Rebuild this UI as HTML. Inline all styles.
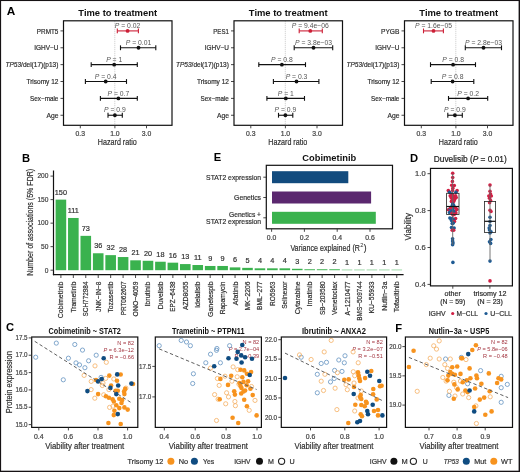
<!DOCTYPE html>
<html><head><meta charset="utf-8"><style>
html,body{margin:0;padding:0;background:#fff;width:520px;height:472px;overflow:hidden}
svg{display:block;will-change:transform}
text{font-family:"Liberation Sans", sans-serif}
</style></head><body>
<svg width="520" height="472" viewBox="0 0 520 472">
<rect width="520" height="472" fill="#fff"/>
<text x="6.80" y="14.80" font-size="11.8" text-anchor="start" fill="#000" font-weight="bold" >A</text>
<text x="117.70" y="16.30" font-size="9.6" text-anchor="middle" fill="#111" font-weight="bold" textLength="78.8" lengthAdjust="spacingAndGlyphs" >Time to treatment</text>
<line x1="114.80" y1="20.80" x2="114.80" y2="125.30" stroke="#bbb" stroke-width="0.8" stroke-dasharray="1 1"/>
<line x1="60.50" y1="30.90" x2="63.50" y2="30.90" stroke="#333" stroke-width="0.9" />
<text x="58.40" y="33.50" font-size="7.5" text-anchor="end" fill="#2e2e2e" stroke="#2e2e2e" stroke-width="0.2" textLength="21.6" lengthAdjust="spacingAndGlyphs" >PRMT5</text>
<line x1="117.30" y1="30.90" x2="138.40" y2="30.90" stroke="#cc1f36" stroke-width="1.1" />
<line x1="117.30" y1="28.50" x2="117.30" y2="33.30" stroke="#cc1f36" stroke-width="1.1" />
<line x1="138.40" y1="28.50" x2="138.40" y2="33.30" stroke="#cc1f36" stroke-width="1.1" />
<circle cx="127.60" cy="30.90" r="1.9" fill="#cc1f36" stroke="none" stroke-width="1" />
<text x="127.60" y="28.10" font-size="6.8" text-anchor="middle" fill="#555" ><tspan font-style="italic">P</tspan> = 0.02</text>
<line x1="60.50" y1="47.77" x2="63.50" y2="47.77" stroke="#333" stroke-width="0.9" />
<text x="58.40" y="50.37" font-size="7.5" text-anchor="end" fill="#2e2e2e" stroke="#2e2e2e" stroke-width="0.2" textLength="24.2" lengthAdjust="spacingAndGlyphs" >IGHV−U</text>
<line x1="120.50" y1="47.77" x2="155.80" y2="47.77" stroke="#111" stroke-width="1.1" />
<line x1="120.50" y1="45.37" x2="120.50" y2="50.17" stroke="#111" stroke-width="1.1" />
<line x1="155.80" y1="45.37" x2="155.80" y2="50.17" stroke="#111" stroke-width="1.1" />
<circle cx="138.50" cy="47.77" r="1.9" fill="#111" stroke="none" stroke-width="1" />
<text x="138.50" y="44.97" font-size="6.8" text-anchor="middle" fill="#555" ><tspan font-style="italic">P</tspan> = 0.01</text>
<line x1="60.50" y1="64.64" x2="63.50" y2="64.64" stroke="#333" stroke-width="0.9" />
<text x="58.40" y="67.24" font-size="7.5" text-anchor="end" fill="#2e2e2e" stroke="#2e2e2e" stroke-width="0.2" textLength="52.9" lengthAdjust="spacingAndGlyphs" ><tspan font-style="italic">TP53</tspan>/del(17)(p13)</text>
<line x1="91.20" y1="64.64" x2="137.30" y2="64.64" stroke="#111" stroke-width="1.1" />
<line x1="91.20" y1="62.24" x2="91.20" y2="67.04" stroke="#111" stroke-width="1.1" />
<line x1="137.30" y1="62.24" x2="137.30" y2="67.04" stroke="#111" stroke-width="1.1" />
<circle cx="114.20" cy="64.64" r="1.9" fill="#111" stroke="none" stroke-width="1" />
<text x="114.20" y="61.84" font-size="6.8" text-anchor="middle" fill="#555" ><tspan font-style="italic">P</tspan> = 1</text>
<line x1="60.50" y1="81.51" x2="63.50" y2="81.51" stroke="#333" stroke-width="0.9" />
<text x="58.40" y="84.11" font-size="7.5" text-anchor="end" fill="#2e2e2e" stroke="#2e2e2e" stroke-width="0.2" textLength="32.0" lengthAdjust="spacingAndGlyphs" >Trisomy 12</text>
<line x1="85.40" y1="81.51" x2="126.50" y2="81.51" stroke="#111" stroke-width="1.1" />
<line x1="85.40" y1="79.11" x2="85.40" y2="83.91" stroke="#111" stroke-width="1.1" />
<line x1="126.50" y1="79.11" x2="126.50" y2="83.91" stroke="#111" stroke-width="1.1" />
<circle cx="105.70" cy="81.51" r="1.9" fill="#111" stroke="none" stroke-width="1" />
<text x="105.70" y="78.71" font-size="6.8" text-anchor="middle" fill="#555" ><tspan font-style="italic">P</tspan> = 0.4</text>
<line x1="60.50" y1="98.38" x2="63.50" y2="98.38" stroke="#333" stroke-width="0.9" />
<text x="58.40" y="100.98" font-size="7.5" text-anchor="end" fill="#2e2e2e" stroke="#2e2e2e" stroke-width="0.2" textLength="28.4" lengthAdjust="spacingAndGlyphs" >Sex−male</text>
<line x1="100.40" y1="98.38" x2="137.30" y2="98.38" stroke="#111" stroke-width="1.1" />
<line x1="100.40" y1="95.98" x2="100.40" y2="100.78" stroke="#111" stroke-width="1.1" />
<line x1="137.30" y1="95.98" x2="137.30" y2="100.78" stroke="#111" stroke-width="1.1" />
<circle cx="118.40" cy="98.38" r="1.9" fill="#111" stroke="none" stroke-width="1" />
<text x="118.40" y="95.58" font-size="6.8" text-anchor="middle" fill="#555" ><tspan font-style="italic">P</tspan> = 0.7</text>
<line x1="60.50" y1="115.25" x2="63.50" y2="115.25" stroke="#333" stroke-width="0.9" />
<text x="58.40" y="117.85" font-size="7.5" text-anchor="end" fill="#2e2e2e" stroke="#2e2e2e" stroke-width="0.2" textLength="12.0" lengthAdjust="spacingAndGlyphs" >Age</text>
<line x1="108.00" y1="115.25" x2="122.30" y2="115.25" stroke="#111" stroke-width="1.1" />
<line x1="108.00" y1="112.85" x2="108.00" y2="117.65" stroke="#111" stroke-width="1.1" />
<line x1="122.30" y1="112.85" x2="122.30" y2="117.65" stroke="#111" stroke-width="1.1" />
<circle cx="114.90" cy="115.25" r="1.9" fill="#111" stroke="none" stroke-width="1" />
<text x="114.90" y="112.45" font-size="6.8" text-anchor="middle" fill="#555" ><tspan font-style="italic">P</tspan> = 0.9</text>
<rect x="63.50" y="20.80" width="108.50" height="104.50" fill="none" stroke="#111" stroke-width="1.2" />
<line x1="80.30" y1="125.30" x2="80.30" y2="128.30" stroke="#333" stroke-width="0.9" />
<text x="80.30" y="135.60" font-size="6.4" text-anchor="middle" fill="#444" stroke="#444" stroke-width="0.2" textLength="9.5" lengthAdjust="spacingAndGlyphs" >0.3</text>
<line x1="114.90" y1="125.30" x2="114.90" y2="128.30" stroke="#333" stroke-width="0.9" />
<text x="114.90" y="135.60" font-size="6.4" text-anchor="middle" fill="#444" stroke="#444" stroke-width="0.2" textLength="9.5" lengthAdjust="spacingAndGlyphs" >1.0</text>
<line x1="146.50" y1="125.30" x2="146.50" y2="128.30" stroke="#333" stroke-width="0.9" />
<text x="146.50" y="135.60" font-size="6.4" text-anchor="middle" fill="#444" stroke="#444" stroke-width="0.2" textLength="9.5" lengthAdjust="spacingAndGlyphs" >3.0</text>
<text x="117.30" y="144.60" font-size="9.6" text-anchor="middle" fill="#2e2e2e" stroke="#2e2e2e" stroke-width="0.2" textLength="39" lengthAdjust="spacingAndGlyphs" >Hazard ratio</text>
<text x="288.20" y="16.30" font-size="9.6" text-anchor="middle" fill="#111" font-weight="bold" textLength="78.8" lengthAdjust="spacingAndGlyphs" >Time to treatment</text>
<line x1="285.30" y1="20.80" x2="285.30" y2="125.30" stroke="#bbb" stroke-width="0.8" stroke-dasharray="1 1"/>
<line x1="231.00" y1="30.90" x2="234.00" y2="30.90" stroke="#333" stroke-width="0.9" />
<text x="228.90" y="33.50" font-size="7.5" text-anchor="end" fill="#2e2e2e" stroke="#2e2e2e" stroke-width="0.2" textLength="15.6" lengthAdjust="spacingAndGlyphs" >PES1</text>
<line x1="299.20" y1="30.90" x2="322.30" y2="30.90" stroke="#cc1f36" stroke-width="1.1" />
<line x1="299.20" y1="28.50" x2="299.20" y2="33.30" stroke="#cc1f36" stroke-width="1.1" />
<line x1="322.30" y1="28.50" x2="322.30" y2="33.30" stroke="#cc1f36" stroke-width="1.1" />
<circle cx="310.30" cy="30.90" r="1.9" fill="#cc1f36" stroke="none" stroke-width="1" />
<text x="310.30" y="28.10" font-size="6.8" text-anchor="middle" fill="#555" ><tspan font-style="italic">P</tspan> = 9.4e−06</text>
<line x1="231.00" y1="47.77" x2="234.00" y2="47.77" stroke="#333" stroke-width="0.9" />
<text x="228.90" y="50.37" font-size="7.5" text-anchor="end" fill="#2e2e2e" stroke="#2e2e2e" stroke-width="0.2" textLength="24.2" lengthAdjust="spacingAndGlyphs" >IGHV−U</text>
<line x1="294.20" y1="47.77" x2="332.70" y2="47.77" stroke="#111" stroke-width="1.1" />
<line x1="294.20" y1="45.37" x2="294.20" y2="50.17" stroke="#111" stroke-width="1.1" />
<line x1="332.70" y1="45.37" x2="332.70" y2="50.17" stroke="#111" stroke-width="1.1" />
<circle cx="313.50" cy="47.77" r="1.9" fill="#111" stroke="none" stroke-width="1" />
<text x="313.50" y="44.97" font-size="6.8" text-anchor="middle" fill="#555" ><tspan font-style="italic">P</tspan> = 3.8e−03</text>
<line x1="231.00" y1="64.64" x2="234.00" y2="64.64" stroke="#333" stroke-width="0.9" />
<text x="228.90" y="67.24" font-size="7.5" text-anchor="end" fill="#2e2e2e" stroke="#2e2e2e" stroke-width="0.2" textLength="52.9" lengthAdjust="spacingAndGlyphs" ><tspan font-style="italic">TP53</tspan>/del(17)(p13)</text>
<line x1="258.80" y1="64.64" x2="305.50" y2="64.64" stroke="#111" stroke-width="1.1" />
<line x1="258.80" y1="62.24" x2="258.80" y2="67.04" stroke="#111" stroke-width="1.1" />
<line x1="305.50" y1="62.24" x2="305.50" y2="67.04" stroke="#111" stroke-width="1.1" />
<circle cx="281.90" cy="64.64" r="1.9" fill="#111" stroke="none" stroke-width="1" />
<text x="281.90" y="61.84" font-size="6.8" text-anchor="middle" fill="#555" ><tspan font-style="italic">P</tspan> = 0.8</text>
<line x1="231.00" y1="81.51" x2="234.00" y2="81.51" stroke="#333" stroke-width="0.9" />
<text x="228.90" y="84.11" font-size="7.5" text-anchor="end" fill="#2e2e2e" stroke="#2e2e2e" stroke-width="0.2" textLength="32.0" lengthAdjust="spacingAndGlyphs" >Trisomy 12</text>
<line x1="273.40" y1="81.51" x2="318.90" y2="81.51" stroke="#111" stroke-width="1.1" />
<line x1="273.40" y1="79.11" x2="273.40" y2="83.91" stroke="#111" stroke-width="1.1" />
<line x1="318.90" y1="79.11" x2="318.90" y2="83.91" stroke="#111" stroke-width="1.1" />
<circle cx="296.50" cy="81.51" r="1.9" fill="#111" stroke="none" stroke-width="1" />
<text x="296.50" y="78.71" font-size="6.8" text-anchor="middle" fill="#555" ><tspan font-style="italic">P</tspan> = 0.3</text>
<line x1="231.00" y1="98.38" x2="234.00" y2="98.38" stroke="#333" stroke-width="0.9" />
<text x="228.90" y="100.98" font-size="7.5" text-anchor="end" fill="#2e2e2e" stroke="#2e2e2e" stroke-width="0.2" textLength="28.4" lengthAdjust="spacingAndGlyphs" >Sex−male</text>
<line x1="266.90" y1="98.38" x2="304.50" y2="98.38" stroke="#111" stroke-width="1.1" />
<line x1="266.90" y1="95.98" x2="266.90" y2="100.78" stroke="#111" stroke-width="1.1" />
<line x1="304.50" y1="95.98" x2="304.50" y2="100.78" stroke="#111" stroke-width="1.1" />
<circle cx="285.80" cy="98.38" r="1.9" fill="#111" stroke="none" stroke-width="1" />
<text x="285.80" y="95.58" font-size="6.8" text-anchor="middle" fill="#555" ><tspan font-style="italic">P</tspan> = 1</text>
<line x1="231.00" y1="115.25" x2="234.00" y2="115.25" stroke="#333" stroke-width="0.9" />
<text x="228.90" y="117.85" font-size="7.5" text-anchor="end" fill="#2e2e2e" stroke="#2e2e2e" stroke-width="0.2" textLength="12.0" lengthAdjust="spacingAndGlyphs" >Age</text>
<line x1="278.50" y1="115.25" x2="292.80" y2="115.25" stroke="#111" stroke-width="1.1" />
<line x1="278.50" y1="112.85" x2="278.50" y2="117.65" stroke="#111" stroke-width="1.1" />
<line x1="292.80" y1="112.85" x2="292.80" y2="117.65" stroke="#111" stroke-width="1.1" />
<circle cx="285.40" cy="115.25" r="1.9" fill="#111" stroke="none" stroke-width="1" />
<text x="285.40" y="112.45" font-size="6.8" text-anchor="middle" fill="#555" ><tspan font-style="italic">P</tspan> = 0.9</text>
<rect x="234.00" y="20.80" width="108.50" height="104.50" fill="none" stroke="#111" stroke-width="1.2" />
<line x1="250.80" y1="125.30" x2="250.80" y2="128.30" stroke="#333" stroke-width="0.9" />
<text x="250.80" y="135.60" font-size="6.4" text-anchor="middle" fill="#444" stroke="#444" stroke-width="0.2" textLength="9.5" lengthAdjust="spacingAndGlyphs" >0.3</text>
<line x1="285.40" y1="125.30" x2="285.40" y2="128.30" stroke="#333" stroke-width="0.9" />
<text x="285.40" y="135.60" font-size="6.4" text-anchor="middle" fill="#444" stroke="#444" stroke-width="0.2" textLength="9.5" lengthAdjust="spacingAndGlyphs" >1.0</text>
<line x1="317.00" y1="125.30" x2="317.00" y2="128.30" stroke="#333" stroke-width="0.9" />
<text x="317.00" y="135.60" font-size="6.4" text-anchor="middle" fill="#444" stroke="#444" stroke-width="0.2" textLength="9.5" lengthAdjust="spacingAndGlyphs" >3.0</text>
<text x="287.80" y="144.60" font-size="9.6" text-anchor="middle" fill="#2e2e2e" stroke="#2e2e2e" stroke-width="0.2" textLength="39" lengthAdjust="spacingAndGlyphs" >Hazard ratio</text>
<text x="458.70" y="16.30" font-size="9.6" text-anchor="middle" fill="#111" font-weight="bold" textLength="78.8" lengthAdjust="spacingAndGlyphs" >Time to treatment</text>
<line x1="455.80" y1="20.80" x2="455.80" y2="125.30" stroke="#bbb" stroke-width="0.8" stroke-dasharray="1 1"/>
<line x1="401.50" y1="30.90" x2="404.50" y2="30.90" stroke="#333" stroke-width="0.9" />
<text x="399.40" y="33.50" font-size="7.5" text-anchor="end" fill="#2e2e2e" stroke="#2e2e2e" stroke-width="0.2" textLength="18.4" lengthAdjust="spacingAndGlyphs" >PYGB</text>
<line x1="423.50" y1="30.90" x2="443.40" y2="30.90" stroke="#cc1f36" stroke-width="1.1" />
<line x1="423.50" y1="28.50" x2="423.50" y2="33.30" stroke="#cc1f36" stroke-width="1.1" />
<line x1="443.40" y1="28.50" x2="443.40" y2="33.30" stroke="#cc1f36" stroke-width="1.1" />
<circle cx="433.50" cy="30.90" r="1.9" fill="#cc1f36" stroke="none" stroke-width="1" />
<text x="433.50" y="28.10" font-size="6.8" text-anchor="middle" fill="#555" ><tspan font-style="italic">P</tspan> = 1.6e−05</text>
<line x1="401.50" y1="47.77" x2="404.50" y2="47.77" stroke="#333" stroke-width="0.9" />
<text x="399.40" y="50.37" font-size="7.5" text-anchor="end" fill="#2e2e2e" stroke="#2e2e2e" stroke-width="0.2" textLength="24.2" lengthAdjust="spacingAndGlyphs" >IGHV−U</text>
<line x1="465.30" y1="47.77" x2="501.50" y2="47.77" stroke="#111" stroke-width="1.1" />
<line x1="465.30" y1="45.37" x2="465.30" y2="50.17" stroke="#111" stroke-width="1.1" />
<line x1="501.50" y1="45.37" x2="501.50" y2="50.17" stroke="#111" stroke-width="1.1" />
<circle cx="483.50" cy="47.77" r="1.9" fill="#111" stroke="none" stroke-width="1" />
<text x="483.50" y="44.97" font-size="6.8" text-anchor="middle" fill="#555" ><tspan font-style="italic">P</tspan> = 2.8e−03</text>
<line x1="401.50" y1="64.64" x2="404.50" y2="64.64" stroke="#333" stroke-width="0.9" />
<text x="399.40" y="67.24" font-size="7.5" text-anchor="end" fill="#2e2e2e" stroke="#2e2e2e" stroke-width="0.2" textLength="52.9" lengthAdjust="spacingAndGlyphs" ><tspan font-style="italic">TP53</tspan>/del(17)(p13)</text>
<line x1="430.50" y1="64.64" x2="475.50" y2="64.64" stroke="#111" stroke-width="1.1" />
<line x1="430.50" y1="62.24" x2="430.50" y2="67.04" stroke="#111" stroke-width="1.1" />
<line x1="475.50" y1="62.24" x2="475.50" y2="67.04" stroke="#111" stroke-width="1.1" />
<circle cx="453.10" cy="64.64" r="1.9" fill="#111" stroke="none" stroke-width="1" />
<text x="453.10" y="61.84" font-size="6.8" text-anchor="middle" fill="#555" ><tspan font-style="italic">P</tspan> = 0.8</text>
<line x1="401.50" y1="81.51" x2="404.50" y2="81.51" stroke="#333" stroke-width="0.9" />
<text x="399.40" y="84.11" font-size="7.5" text-anchor="end" fill="#2e2e2e" stroke="#2e2e2e" stroke-width="0.2" textLength="32.0" lengthAdjust="spacingAndGlyphs" >Trisomy 12</text>
<line x1="431.20" y1="81.51" x2="473.80" y2="81.51" stroke="#111" stroke-width="1.1" />
<line x1="431.20" y1="79.11" x2="431.20" y2="83.91" stroke="#111" stroke-width="1.1" />
<line x1="473.80" y1="79.11" x2="473.80" y2="83.91" stroke="#111" stroke-width="1.1" />
<circle cx="452.60" cy="81.51" r="1.9" fill="#111" stroke="none" stroke-width="1" />
<text x="452.60" y="78.71" font-size="6.8" text-anchor="middle" fill="#555" ><tspan font-style="italic">P</tspan> = 0.8</text>
<line x1="401.50" y1="98.38" x2="404.50" y2="98.38" stroke="#333" stroke-width="0.9" />
<text x="399.40" y="100.98" font-size="7.5" text-anchor="end" fill="#2e2e2e" stroke="#2e2e2e" stroke-width="0.2" textLength="28.4" lengthAdjust="spacingAndGlyphs" >Sex−male</text>
<line x1="448.50" y1="98.38" x2="487.70" y2="98.38" stroke="#111" stroke-width="1.1" />
<line x1="448.50" y1="95.98" x2="448.50" y2="100.78" stroke="#111" stroke-width="1.1" />
<line x1="487.70" y1="95.98" x2="487.70" y2="100.78" stroke="#111" stroke-width="1.1" />
<circle cx="468.10" cy="98.38" r="1.9" fill="#111" stroke="none" stroke-width="1" />
<text x="468.10" y="95.58" font-size="6.8" text-anchor="middle" fill="#555" ><tspan font-style="italic">P</tspan> = 0.2</text>
<line x1="401.50" y1="115.25" x2="404.50" y2="115.25" stroke="#333" stroke-width="0.9" />
<text x="399.40" y="117.85" font-size="7.5" text-anchor="end" fill="#2e2e2e" stroke="#2e2e2e" stroke-width="0.2" textLength="12.0" lengthAdjust="spacingAndGlyphs" >Age</text>
<line x1="447.80" y1="115.25" x2="462.30" y2="115.25" stroke="#111" stroke-width="1.1" />
<line x1="447.80" y1="112.85" x2="447.80" y2="117.65" stroke="#111" stroke-width="1.1" />
<line x1="462.30" y1="112.85" x2="462.30" y2="117.65" stroke="#111" stroke-width="1.1" />
<circle cx="454.90" cy="115.25" r="1.9" fill="#111" stroke="none" stroke-width="1" />
<text x="454.90" y="112.45" font-size="6.8" text-anchor="middle" fill="#555" ><tspan font-style="italic">P</tspan> = 0.9</text>
<rect x="404.50" y="20.80" width="108.50" height="104.50" fill="none" stroke="#111" stroke-width="1.2" />
<line x1="421.30" y1="125.30" x2="421.30" y2="128.30" stroke="#333" stroke-width="0.9" />
<text x="421.30" y="135.60" font-size="6.4" text-anchor="middle" fill="#444" stroke="#444" stroke-width="0.2" textLength="9.5" lengthAdjust="spacingAndGlyphs" >0.3</text>
<line x1="455.90" y1="125.30" x2="455.90" y2="128.30" stroke="#333" stroke-width="0.9" />
<text x="455.90" y="135.60" font-size="6.4" text-anchor="middle" fill="#444" stroke="#444" stroke-width="0.2" textLength="9.5" lengthAdjust="spacingAndGlyphs" >1.0</text>
<line x1="487.50" y1="125.30" x2="487.50" y2="128.30" stroke="#333" stroke-width="0.9" />
<text x="487.50" y="135.60" font-size="6.4" text-anchor="middle" fill="#444" stroke="#444" stroke-width="0.2" textLength="9.5" lengthAdjust="spacingAndGlyphs" >3.0</text>
<text x="458.30" y="144.60" font-size="9.6" text-anchor="middle" fill="#2e2e2e" stroke="#2e2e2e" stroke-width="0.2" textLength="39" lengthAdjust="spacingAndGlyphs" >Hazard ratio</text>
<text x="22.00" y="162.00" font-size="11.2" text-anchor="start" fill="#000" font-weight="bold" >B</text>
<line x1="53.50" y1="170.50" x2="53.50" y2="275.20" stroke="#111" stroke-width="1.2" />
<line x1="52.90" y1="274.60" x2="403.60" y2="274.60" stroke="#111" stroke-width="1.2" />
<line x1="50.50" y1="270.20" x2="53.50" y2="270.20" stroke="#333" stroke-width="0.9" />
<text x="48.40" y="272.50" font-size="6.6" text-anchor="end" fill="#444" stroke="#444" stroke-width="0.2" >0</text>
<line x1="50.50" y1="246.67" x2="53.50" y2="246.67" stroke="#333" stroke-width="0.9" />
<text x="48.40" y="248.97" font-size="6.6" text-anchor="end" fill="#444" stroke="#444" stroke-width="0.2" >50</text>
<line x1="50.50" y1="223.15" x2="53.50" y2="223.15" stroke="#333" stroke-width="0.9" />
<text x="48.40" y="225.45" font-size="6.6" text-anchor="end" fill="#444" stroke="#444" stroke-width="0.2" >100</text>
<line x1="50.50" y1="199.62" x2="53.50" y2="199.62" stroke="#333" stroke-width="0.9" />
<text x="48.40" y="201.93" font-size="6.6" text-anchor="end" fill="#444" stroke="#444" stroke-width="0.2" >150</text>
<line x1="50.50" y1="176.10" x2="53.50" y2="176.10" stroke="#333" stroke-width="0.9" />
<text x="48.40" y="178.40" font-size="6.6" text-anchor="end" fill="#444" stroke="#444" stroke-width="0.2" >200</text>
<text x="33.40" y="222.30" font-size="8.7" text-anchor="middle" fill="#2e2e2e" stroke="#2e2e2e" stroke-width="0.2" textLength="107" lengthAdjust="spacingAndGlyphs" transform="rotate(-90 33.40 222.30)" >Number of associations (5% FDR)</text>
<rect x="55.60" y="199.62" width="10.60" height="70.58" fill="#3ab24e" stroke="none" stroke-width="1" />
<text x="60.90" y="194.62" font-size="7.3" text-anchor="middle" fill="#333" stroke="#333" stroke-width="0.2" >150</text>
<line x1="60.90" y1="274.60" x2="60.90" y2="278.00" stroke="#333" stroke-width="0.9" />
<text x="63.40" y="281.50" font-size="7.4" text-anchor="end" fill="#2e2e2e" stroke="#2e2e2e" stroke-width="0.2" textLength="36.7" lengthAdjust="spacingAndGlyphs" transform="rotate(-90 63.40 281.50)" >Cobimetinib</text>
<rect x="68.04" y="217.97" width="10.60" height="52.23" fill="#3ab24e" stroke="none" stroke-width="1" />
<text x="73.34" y="212.97" font-size="7.3" text-anchor="middle" fill="#333" stroke="#333" stroke-width="0.2" >111</text>
<line x1="73.34" y1="274.60" x2="73.34" y2="278.00" stroke="#333" stroke-width="0.9" />
<text x="75.84" y="281.50" font-size="7.4" text-anchor="end" fill="#2e2e2e" stroke="#2e2e2e" stroke-width="0.2" textLength="31.1" lengthAdjust="spacingAndGlyphs" transform="rotate(-90 75.84 281.50)" >Trametinib</text>
<rect x="80.48" y="235.85" width="10.60" height="34.35" fill="#3ab24e" stroke="none" stroke-width="1" />
<text x="85.78" y="230.85" font-size="7.3" text-anchor="middle" fill="#333" stroke="#333" stroke-width="0.2" >73</text>
<line x1="85.78" y1="274.60" x2="85.78" y2="278.00" stroke="#333" stroke-width="0.9" />
<text x="88.28" y="281.50" font-size="7.4" text-anchor="end" fill="#2e2e2e" stroke="#2e2e2e" stroke-width="0.2" textLength="34.9" lengthAdjust="spacingAndGlyphs" transform="rotate(-90 88.28 281.50)" >SCH772984</text>
<rect x="92.92" y="253.26" width="10.60" height="16.94" fill="#3ab24e" stroke="none" stroke-width="1" />
<text x="98.22" y="248.26" font-size="7.3" text-anchor="middle" fill="#333" stroke="#333" stroke-width="0.2" >36</text>
<line x1="98.22" y1="274.60" x2="98.22" y2="278.00" stroke="#333" stroke-width="0.9" />
<text x="100.72" y="281.50" font-size="7.4" text-anchor="end" fill="#2e2e2e" stroke="#2e2e2e" stroke-width="0.2" textLength="30.2" lengthAdjust="spacingAndGlyphs" transform="rotate(-90 100.72 281.50)" >JNK−IN−8</text>
<rect x="105.36" y="255.14" width="10.60" height="15.06" fill="#3ab24e" stroke="none" stroke-width="1" />
<text x="110.66" y="250.14" font-size="7.3" text-anchor="middle" fill="#333" stroke="#333" stroke-width="0.2" >32</text>
<line x1="110.66" y1="274.60" x2="110.66" y2="278.00" stroke="#333" stroke-width="0.9" />
<text x="113.16" y="281.50" font-size="7.4" text-anchor="end" fill="#2e2e2e" stroke="#2e2e2e" stroke-width="0.2" textLength="31.1" lengthAdjust="spacingAndGlyphs" transform="rotate(-90 113.16 281.50)" >Tozasertib</text>
<rect x="117.80" y="257.03" width="10.60" height="13.17" fill="#3ab24e" stroke="none" stroke-width="1" />
<text x="123.10" y="252.03" font-size="7.3" text-anchor="middle" fill="#333" stroke="#333" stroke-width="0.2" >28</text>
<line x1="123.10" y1="274.60" x2="123.10" y2="278.00" stroke="#333" stroke-width="0.9" />
<text x="125.60" y="281.50" font-size="7.4" text-anchor="end" fill="#2e2e2e" stroke="#2e2e2e" stroke-width="0.2" textLength="33.7" lengthAdjust="spacingAndGlyphs" transform="rotate(-90 125.60 281.50)" >PRT062607</text>
<rect x="130.24" y="260.32" width="10.60" height="9.88" fill="#3ab24e" stroke="none" stroke-width="1" />
<text x="135.54" y="255.32" font-size="7.3" text-anchor="middle" fill="#333" stroke="#333" stroke-width="0.2" >21</text>
<line x1="135.54" y1="274.60" x2="135.54" y2="278.00" stroke="#333" stroke-width="0.9" />
<text x="138.04" y="281.50" font-size="7.4" text-anchor="end" fill="#2e2e2e" stroke="#2e2e2e" stroke-width="0.2" textLength="34.9" lengthAdjust="spacingAndGlyphs" transform="rotate(-90 138.04 281.50)" >ONO−4059</text>
<rect x="142.68" y="260.79" width="10.60" height="9.41" fill="#3ab24e" stroke="none" stroke-width="1" />
<text x="147.98" y="255.79" font-size="7.3" text-anchor="middle" fill="#333" stroke="#333" stroke-width="0.2" >20</text>
<line x1="147.98" y1="274.60" x2="147.98" y2="278.00" stroke="#333" stroke-width="0.9" />
<text x="150.48" y="281.50" font-size="7.4" text-anchor="end" fill="#2e2e2e" stroke="#2e2e2e" stroke-width="0.2" textLength="25.1" lengthAdjust="spacingAndGlyphs" transform="rotate(-90 150.48 281.50)" >Ibrutinib</text>
<rect x="155.12" y="261.73" width="10.60" height="8.47" fill="#3ab24e" stroke="none" stroke-width="1" />
<text x="160.42" y="256.73" font-size="7.3" text-anchor="middle" fill="#333" stroke="#333" stroke-width="0.2" >18</text>
<line x1="160.42" y1="274.60" x2="160.42" y2="278.00" stroke="#333" stroke-width="0.9" />
<text x="162.92" y="281.50" font-size="7.4" text-anchor="end" fill="#2e2e2e" stroke="#2e2e2e" stroke-width="0.2" textLength="27.7" lengthAdjust="spacingAndGlyphs" transform="rotate(-90 162.92 281.50)" >Duvelisib</text>
<rect x="167.56" y="262.67" width="10.60" height="7.53" fill="#3ab24e" stroke="none" stroke-width="1" />
<text x="172.86" y="257.67" font-size="7.3" text-anchor="middle" fill="#333" stroke="#333" stroke-width="0.2" >16</text>
<line x1="172.86" y1="274.60" x2="172.86" y2="278.00" stroke="#333" stroke-width="0.9" />
<text x="175.36" y="281.50" font-size="7.4" text-anchor="end" fill="#2e2e2e" stroke="#2e2e2e" stroke-width="0.2" textLength="30.2" lengthAdjust="spacingAndGlyphs" transform="rotate(-90 175.36 281.50)" >EPZ−6438</text>
<rect x="180.00" y="264.08" width="10.60" height="6.12" fill="#3ab24e" stroke="none" stroke-width="1" />
<text x="185.30" y="259.08" font-size="7.3" text-anchor="middle" fill="#333" stroke="#333" stroke-width="0.2" >13</text>
<line x1="185.30" y1="274.60" x2="185.30" y2="278.00" stroke="#333" stroke-width="0.9" />
<text x="187.80" y="281.50" font-size="7.4" text-anchor="end" fill="#2e2e2e" stroke="#2e2e2e" stroke-width="0.2" textLength="28.5" lengthAdjust="spacingAndGlyphs" transform="rotate(-90 187.80 281.50)" >AZD8055</text>
<rect x="192.44" y="265.02" width="10.60" height="5.18" fill="#3ab24e" stroke="none" stroke-width="1" />
<text x="197.74" y="260.02" font-size="7.3" text-anchor="middle" fill="#333" stroke="#333" stroke-width="0.2" >11</text>
<line x1="197.74" y1="274.60" x2="197.74" y2="278.00" stroke="#333" stroke-width="0.9" />
<text x="200.24" y="281.50" font-size="7.4" text-anchor="end" fill="#2e2e2e" stroke="#2e2e2e" stroke-width="0.2" textLength="26.3" lengthAdjust="spacingAndGlyphs" transform="rotate(-90 200.24 281.50)" >Idelalisib</text>
<rect x="204.88" y="265.97" width="10.60" height="4.23" fill="#3ab24e" stroke="none" stroke-width="1" />
<text x="210.18" y="260.97" font-size="7.3" text-anchor="middle" fill="#333" stroke="#333" stroke-width="0.2" >9</text>
<line x1="210.18" y1="274.60" x2="210.18" y2="278.00" stroke="#333" stroke-width="0.9" />
<text x="212.68" y="281.50" font-size="7.4" text-anchor="end" fill="#2e2e2e" stroke="#2e2e2e" stroke-width="0.2" textLength="35.4" lengthAdjust="spacingAndGlyphs" transform="rotate(-90 212.68 281.50)" >Ganetespib</text>
<rect x="217.32" y="265.97" width="10.60" height="4.23" fill="#3ab24e" stroke="none" stroke-width="1" />
<text x="222.62" y="260.97" font-size="7.3" text-anchor="middle" fill="#333" stroke="#333" stroke-width="0.2" >9</text>
<line x1="222.62" y1="274.60" x2="222.62" y2="278.00" stroke="#333" stroke-width="0.9" />
<text x="225.12" y="281.50" font-size="7.4" text-anchor="end" fill="#2e2e2e" stroke="#2e2e2e" stroke-width="0.2" textLength="32.8" lengthAdjust="spacingAndGlyphs" transform="rotate(-90 225.12 281.50)" >Rapamycin</text>
<rect x="229.76" y="267.38" width="10.60" height="2.82" fill="#3ab24e" stroke="none" stroke-width="1" />
<text x="235.06" y="262.38" font-size="7.3" text-anchor="middle" fill="#333" stroke="#333" stroke-width="0.2" >6</text>
<line x1="235.06" y1="274.60" x2="235.06" y2="278.00" stroke="#333" stroke-width="0.9" />
<text x="237.56" y="281.50" font-size="7.4" text-anchor="end" fill="#2e2e2e" stroke="#2e2e2e" stroke-width="0.2" textLength="23.8" lengthAdjust="spacingAndGlyphs" transform="rotate(-90 237.56 281.50)" >Afatinib</text>
<rect x="242.20" y="267.85" width="10.60" height="2.35" fill="#3ab24e" stroke="none" stroke-width="1" />
<text x="247.50" y="262.85" font-size="7.3" text-anchor="middle" fill="#333" stroke="#333" stroke-width="0.2" >5</text>
<line x1="247.50" y1="274.60" x2="247.50" y2="278.00" stroke="#333" stroke-width="0.9" />
<text x="250.00" y="281.50" font-size="7.4" text-anchor="end" fill="#2e2e2e" stroke="#2e2e2e" stroke-width="0.2" textLength="29" lengthAdjust="spacingAndGlyphs" transform="rotate(-90 250.00 281.50)" >MK−2206</text>
<rect x="254.64" y="268.32" width="10.60" height="1.88" fill="#3ab24e" stroke="none" stroke-width="1" />
<text x="259.94" y="263.32" font-size="7.3" text-anchor="middle" fill="#333" stroke="#333" stroke-width="0.2" >4</text>
<line x1="259.94" y1="274.60" x2="259.94" y2="278.00" stroke="#333" stroke-width="0.9" />
<text x="262.44" y="281.50" font-size="7.4" text-anchor="end" fill="#2e2e2e" stroke="#2e2e2e" stroke-width="0.2" textLength="28.5" lengthAdjust="spacingAndGlyphs" transform="rotate(-90 262.44 281.50)" >BML−277</text>
<rect x="267.08" y="268.32" width="10.60" height="1.88" fill="#3ab24e" stroke="none" stroke-width="1" />
<text x="272.38" y="263.32" font-size="7.3" text-anchor="middle" fill="#333" stroke="#333" stroke-width="0.2" >4</text>
<line x1="272.38" y1="274.60" x2="272.38" y2="278.00" stroke="#333" stroke-width="0.9" />
<text x="274.88" y="281.50" font-size="7.4" text-anchor="end" fill="#2e2e2e" stroke="#2e2e2e" stroke-width="0.2" textLength="24.5" lengthAdjust="spacingAndGlyphs" transform="rotate(-90 274.88 281.50)" >RO5963</text>
<rect x="279.52" y="268.32" width="10.60" height="1.88" fill="#3ab24e" stroke="none" stroke-width="1" />
<text x="284.82" y="263.32" font-size="7.3" text-anchor="middle" fill="#333" stroke="#333" stroke-width="0.2" >4</text>
<line x1="284.82" y1="274.60" x2="284.82" y2="278.00" stroke="#333" stroke-width="0.9" />
<text x="287.32" y="281.50" font-size="7.4" text-anchor="end" fill="#2e2e2e" stroke="#2e2e2e" stroke-width="0.2" textLength="27.3" lengthAdjust="spacingAndGlyphs" transform="rotate(-90 287.32 281.50)" >Selinexor</text>
<rect x="291.96" y="268.79" width="10.60" height="1.41" fill="#3ab24e" stroke="none" stroke-width="1" />
<text x="297.26" y="263.79" font-size="7.3" text-anchor="middle" fill="#333" stroke="#333" stroke-width="0.2" >3</text>
<line x1="297.26" y1="274.60" x2="297.26" y2="278.00" stroke="#333" stroke-width="0.9" />
<text x="299.76" y="281.50" font-size="7.4" text-anchor="end" fill="#2e2e2e" stroke="#2e2e2e" stroke-width="0.2" textLength="32.8" lengthAdjust="spacingAndGlyphs" transform="rotate(-90 299.76 281.50)" >Cytarabine</text>
<rect x="304.40" y="269.26" width="10.60" height="0.94" fill="#3ab24e" stroke="none" stroke-width="1" />
<text x="309.70" y="264.26" font-size="7.3" text-anchor="middle" fill="#333" stroke="#333" stroke-width="0.2" >2</text>
<line x1="309.70" y1="274.60" x2="309.70" y2="278.00" stroke="#333" stroke-width="0.9" />
<text x="312.20" y="281.50" font-size="7.4" text-anchor="end" fill="#2e2e2e" stroke="#2e2e2e" stroke-width="0.2" textLength="25" lengthAdjust="spacingAndGlyphs" transform="rotate(-90 312.20 281.50)" >Imatinib</text>
<rect x="316.84" y="269.26" width="10.60" height="0.94" fill="#3ab24e" stroke="none" stroke-width="1" />
<text x="322.14" y="264.26" font-size="7.3" text-anchor="middle" fill="#333" stroke="#333" stroke-width="0.2" >2</text>
<line x1="322.14" y1="274.60" x2="322.14" y2="278.00" stroke="#333" stroke-width="0.9" />
<text x="324.64" y="281.50" font-size="7.4" text-anchor="end" fill="#2e2e2e" stroke="#2e2e2e" stroke-width="0.2" textLength="33.4" lengthAdjust="spacingAndGlyphs" transform="rotate(-90 324.64 281.50)" >SB−203580</text>
<rect x="329.28" y="269.26" width="10.60" height="0.94" fill="#3ab24e" stroke="none" stroke-width="1" />
<text x="334.58" y="264.26" font-size="7.3" text-anchor="middle" fill="#333" stroke="#333" stroke-width="0.2" >2</text>
<line x1="334.58" y1="274.60" x2="334.58" y2="278.00" stroke="#333" stroke-width="0.9" />
<text x="337.08" y="281.50" font-size="7.4" text-anchor="end" fill="#2e2e2e" stroke="#2e2e2e" stroke-width="0.2" textLength="33.4" lengthAdjust="spacingAndGlyphs" transform="rotate(-90 337.08 281.50)" >Venetoclax</text>
<rect x="341.72" y="269.73" width="10.60" height="0.47" fill="#3ab24e" stroke="none" stroke-width="1" />
<text x="347.02" y="264.73" font-size="7.3" text-anchor="middle" fill="#333" stroke="#333" stroke-width="0.2" >1</text>
<line x1="347.02" y1="274.60" x2="347.02" y2="278.00" stroke="#333" stroke-width="0.9" />
<text x="349.52" y="281.50" font-size="7.4" text-anchor="end" fill="#2e2e2e" stroke="#2e2e2e" stroke-width="0.2" textLength="34" lengthAdjust="spacingAndGlyphs" transform="rotate(-90 349.52 281.50)" >A−1210477</text>
<rect x="354.16" y="269.73" width="10.60" height="0.47" fill="#3ab24e" stroke="none" stroke-width="1" />
<text x="359.46" y="264.73" font-size="7.3" text-anchor="middle" fill="#333" stroke="#333" stroke-width="0.2" >1</text>
<line x1="359.46" y1="274.60" x2="359.46" y2="278.00" stroke="#333" stroke-width="0.9" />
<text x="361.96" y="281.50" font-size="7.4" text-anchor="end" fill="#2e2e2e" stroke="#2e2e2e" stroke-width="0.2" textLength="39.2" lengthAdjust="spacingAndGlyphs" transform="rotate(-90 361.96 281.50)" >BMS−509744</text>
<rect x="366.60" y="269.73" width="10.60" height="0.47" fill="#3ab24e" stroke="none" stroke-width="1" />
<text x="371.90" y="264.73" font-size="7.3" text-anchor="middle" fill="#333" stroke="#333" stroke-width="0.2" >1</text>
<line x1="371.90" y1="274.60" x2="371.90" y2="278.00" stroke="#333" stroke-width="0.9" />
<text x="374.40" y="281.50" font-size="7.4" text-anchor="end" fill="#2e2e2e" stroke="#2e2e2e" stroke-width="0.2" textLength="32.1" lengthAdjust="spacingAndGlyphs" transform="rotate(-90 374.40 281.50)" >KU−55933</text>
<rect x="379.04" y="269.73" width="10.60" height="0.47" fill="#3ab24e" stroke="none" stroke-width="1" />
<text x="384.34" y="264.73" font-size="7.3" text-anchor="middle" fill="#333" stroke="#333" stroke-width="0.2" >1</text>
<line x1="384.34" y1="274.60" x2="384.34" y2="278.00" stroke="#333" stroke-width="0.9" />
<text x="386.84" y="281.50" font-size="7.4" text-anchor="end" fill="#2e2e2e" stroke="#2e2e2e" stroke-width="0.2" textLength="29.2" lengthAdjust="spacingAndGlyphs" transform="rotate(-90 386.84 281.50)" >Nutlin−3a</text>
<rect x="391.48" y="269.73" width="10.60" height="0.47" fill="#3ab24e" stroke="none" stroke-width="1" />
<text x="396.78" y="264.73" font-size="7.3" text-anchor="middle" fill="#333" stroke="#333" stroke-width="0.2" >1</text>
<line x1="396.78" y1="274.60" x2="396.78" y2="278.00" stroke="#333" stroke-width="0.9" />
<text x="399.28" y="281.50" font-size="7.4" text-anchor="end" fill="#2e2e2e" stroke="#2e2e2e" stroke-width="0.2" textLength="30.7" lengthAdjust="spacingAndGlyphs" transform="rotate(-90 399.28 281.50)" >Tofacitinib</text>
<text x="213.80" y="161.00" font-size="11.2" text-anchor="start" fill="#000" font-weight="bold" >E</text>
<text x="329.30" y="161.00" font-size="9.6" text-anchor="middle" fill="#111" font-weight="bold" textLength="54" lengthAdjust="spacingAndGlyphs" >Cobimetinib</text>
<rect x="272.00" y="171.20" width="76.30" height="12.00" fill="#124b7e" stroke="none" stroke-width="1" />
<line x1="263.30" y1="177.20" x2="266.30" y2="177.20" stroke="#333" stroke-width="0.9" />
<rect x="272.00" y="191.50" width="99.10" height="12.00" fill="#5b286f" stroke="none" stroke-width="1" />
<line x1="263.30" y1="197.50" x2="266.30" y2="197.50" stroke="#333" stroke-width="0.9" />
<rect x="272.00" y="211.80" width="103.80" height="12.00" fill="#3ab24e" stroke="none" stroke-width="1" />
<line x1="263.30" y1="217.80" x2="266.30" y2="217.80" stroke="#333" stroke-width="0.9" />
<rect x="266.30" y="165.30" width="126.20" height="63.50" fill="none" stroke="#111" stroke-width="1.2" />
<text x="261.00" y="179.80" font-size="7.7" text-anchor="end" fill="#2e2e2e" stroke="#2e2e2e" stroke-width="0.2" textLength="54.9" lengthAdjust="spacingAndGlyphs" >STAT2 expression</text>
<text x="261.00" y="200.10" font-size="7.7" text-anchor="end" fill="#2e2e2e" stroke="#2e2e2e" stroke-width="0.2" textLength="26.9" lengthAdjust="spacingAndGlyphs" >Genetics</text>
<text x="261.00" y="216.60" font-size="7.7" text-anchor="end" fill="#2e2e2e" stroke="#2e2e2e" stroke-width="0.2" textLength="32" lengthAdjust="spacingAndGlyphs" >Genetics +</text>
<text x="261.00" y="223.60" font-size="7.7" text-anchor="end" fill="#2e2e2e" stroke="#2e2e2e" stroke-width="0.2" textLength="54.9" lengthAdjust="spacingAndGlyphs" >STAT2 expression</text>
<line x1="271.60" y1="228.80" x2="271.60" y2="231.80" stroke="#333" stroke-width="0.9" />
<text x="271.60" y="240.00" font-size="6.4" text-anchor="middle" fill="#444" stroke="#444" stroke-width="0.2" textLength="9.5" lengthAdjust="spacingAndGlyphs" >0.0</text>
<line x1="304.40" y1="228.80" x2="304.40" y2="231.80" stroke="#333" stroke-width="0.9" />
<text x="304.40" y="240.00" font-size="6.4" text-anchor="middle" fill="#444" stroke="#444" stroke-width="0.2" textLength="9.5" lengthAdjust="spacingAndGlyphs" >0.2</text>
<line x1="337.20" y1="228.80" x2="337.20" y2="231.80" stroke="#333" stroke-width="0.9" />
<text x="337.20" y="240.00" font-size="6.4" text-anchor="middle" fill="#444" stroke="#444" stroke-width="0.2" textLength="9.5" lengthAdjust="spacingAndGlyphs" >0.4</text>
<line x1="370.00" y1="228.80" x2="370.00" y2="231.80" stroke="#333" stroke-width="0.9" />
<text x="370.00" y="240.00" font-size="6.4" text-anchor="middle" fill="#444" stroke="#444" stroke-width="0.2" textLength="9.5" lengthAdjust="spacingAndGlyphs" >0.6</text>
<text x="290.40" y="251.00" font-size="9.4" text-anchor="start" fill="#2e2e2e" stroke="#2e2e2e" stroke-width="0.2" textLength="69.5" lengthAdjust="spacingAndGlyphs" >Variance explained (R</text>
<text x="360.30" y="247.00" font-size="5.6" text-anchor="start" fill="#2e2e2e" textLength="3.2" lengthAdjust="spacingAndGlyphs" >2</text>
<text x="363.80" y="251.00" font-size="9.4" text-anchor="start" fill="#2e2e2e" stroke="#2e2e2e" stroke-width="0.2" textLength="2.8" lengthAdjust="spacingAndGlyphs" >)</text>
<text x="409.90" y="161.70" font-size="11.2" text-anchor="start" fill="#000" font-weight="bold" >D</text>
<text x="470.30" y="162.30" font-size="8.4" text-anchor="middle" fill="#222" stroke="#222" stroke-width="0.2" textLength="73" lengthAdjust="spacingAndGlyphs" >Duvelisib (<tspan font-style="italic">P</tspan> = 0.01)</text>
<line x1="427.50" y1="173.70" x2="430.50" y2="173.70" stroke="#333" stroke-width="0.9" />
<text x="425.60" y="176.00" font-size="6.6" text-anchor="end" fill="#444" stroke="#444" stroke-width="0.2" textLength="10.5" lengthAdjust="spacingAndGlyphs" >1.0</text>
<line x1="427.50" y1="210.60" x2="430.50" y2="210.60" stroke="#333" stroke-width="0.9" />
<text x="425.60" y="212.90" font-size="6.6" text-anchor="end" fill="#444" stroke="#444" stroke-width="0.2" textLength="10.5" lengthAdjust="spacingAndGlyphs" >0.8</text>
<line x1="427.50" y1="247.50" x2="430.50" y2="247.50" stroke="#333" stroke-width="0.9" />
<text x="425.60" y="249.80" font-size="6.6" text-anchor="end" fill="#444" stroke="#444" stroke-width="0.2" textLength="10.5" lengthAdjust="spacingAndGlyphs" >0.6</text>
<line x1="427.50" y1="284.40" x2="430.50" y2="284.40" stroke="#333" stroke-width="0.9" />
<text x="425.60" y="286.70" font-size="6.6" text-anchor="end" fill="#444" stroke="#444" stroke-width="0.2" textLength="10.5" lengthAdjust="spacingAndGlyphs" >0.4</text>
<text x="411.50" y="226.70" font-size="8.6" text-anchor="middle" fill="#2e2e2e" stroke="#2e2e2e" stroke-width="0.2" textLength="27.5" lengthAdjust="spacingAndGlyphs" transform="rotate(-90 411.50 226.70)" >Viability</text>
<circle cx="452.70" cy="173.20" r="1.8" fill="#d11f44" stroke="none" stroke-width="1" />
<circle cx="452.70" cy="177.50" r="1.8" fill="#d11f44" stroke="none" stroke-width="1" />
<circle cx="452.40" cy="181.40" r="1.8" fill="#d11f44" stroke="none" stroke-width="1" />
<circle cx="451.70" cy="185.20" r="1.8" fill="#d11f44" stroke="none" stroke-width="1" />
<circle cx="454.30" cy="185.60" r="1.8" fill="#d11f44" stroke="none" stroke-width="1" />
<circle cx="452.80" cy="188.20" r="1.8" fill="#d11f44" stroke="none" stroke-width="1" />
<circle cx="448.30" cy="190.60" r="1.8" fill="#d11f44" stroke="none" stroke-width="1" />
<circle cx="457.10" cy="190.60" r="1.8" fill="#d11f44" stroke="none" stroke-width="1" />
<circle cx="452.60" cy="190.50" r="1.8" fill="#d11f44" stroke="none" stroke-width="1" />
<circle cx="449.50" cy="192.20" r="1.8" fill="#1d5a93" stroke="none" stroke-width="1" />
<circle cx="455.90" cy="192.20" r="1.8" fill="#1d5a93" stroke="none" stroke-width="1" />
<circle cx="452.00" cy="194.10" r="1.8" fill="#1d5a93" stroke="none" stroke-width="1" />
<circle cx="450.20" cy="195.70" r="1.8" fill="#d11f44" stroke="none" stroke-width="1" />
<circle cx="452.70" cy="195.10" r="1.8" fill="#d11f44" stroke="none" stroke-width="1" />
<circle cx="455.60" cy="195.70" r="1.8" fill="#d11f44" stroke="none" stroke-width="1" />
<circle cx="451.10" cy="197.60" r="1.8" fill="#d11f44" stroke="none" stroke-width="1" />
<circle cx="453.70" cy="197.30" r="1.8" fill="#d11f44" stroke="none" stroke-width="1" />
<circle cx="456.20" cy="197.60" r="1.8" fill="#d11f44" stroke="none" stroke-width="1" />
<circle cx="452.40" cy="199.50" r="1.8" fill="#d11f44" stroke="none" stroke-width="1" />
<circle cx="454.60" cy="199.50" r="1.8" fill="#d11f44" stroke="none" stroke-width="1" />
<circle cx="451.40" cy="201.40" r="1.8" fill="#d11f44" stroke="none" stroke-width="1" />
<circle cx="454.00" cy="201.10" r="1.8" fill="#d11f44" stroke="none" stroke-width="1" />
<circle cx="453.00" cy="202.70" r="1.8" fill="#d11f44" stroke="none" stroke-width="1" />
<circle cx="452.70" cy="204.00" r="1.8" fill="#1d5a93" stroke="none" stroke-width="1" />
<circle cx="452.40" cy="205.20" r="1.8" fill="#1d5a93" stroke="none" stroke-width="1" />
<circle cx="453.70" cy="205.60" r="1.8" fill="#1d5a93" stroke="none" stroke-width="1" />
<circle cx="448.30" cy="209.70" r="1.8" fill="#d11f44" stroke="none" stroke-width="1" />
<circle cx="456.80" cy="209.40" r="1.8" fill="#d11f44" stroke="none" stroke-width="1" />
<circle cx="454.90" cy="211.60" r="1.8" fill="#d11f44" stroke="none" stroke-width="1" />
<circle cx="455.90" cy="212.90" r="1.8" fill="#d11f44" stroke="none" stroke-width="1" />
<circle cx="450.20" cy="209.00" r="1.8" fill="#1d5a93" stroke="none" stroke-width="1" />
<circle cx="453.30" cy="208.40" r="1.8" fill="#1d5a93" stroke="none" stroke-width="1" />
<circle cx="451.70" cy="211.00" r="1.8" fill="#1d5a93" stroke="none" stroke-width="1" />
<circle cx="449.50" cy="212.50" r="1.8" fill="#1d5a93" stroke="none" stroke-width="1" />
<circle cx="453.70" cy="211.60" r="1.8" fill="#1d5a93" stroke="none" stroke-width="1" />
<circle cx="452.00" cy="213.40" r="1.8" fill="#d11f44" stroke="none" stroke-width="1" />
<circle cx="450.50" cy="207.80" r="1.8" fill="#d11f44" stroke="none" stroke-width="1" />
<circle cx="455.50" cy="207.80" r="1.8" fill="#d11f44" stroke="none" stroke-width="1" />
<circle cx="453.00" cy="215.00" r="1.8" fill="#d11f44" stroke="none" stroke-width="1" />
<circle cx="454.50" cy="214.20" r="1.8" fill="#d11f44" stroke="none" stroke-width="1" />
<circle cx="449.90" cy="218.10" r="1.8" fill="#1d5a93" stroke="none" stroke-width="1" />
<circle cx="452.20" cy="218.50" r="1.8" fill="#1d5a93" stroke="none" stroke-width="1" />
<circle cx="455.60" cy="218.50" r="1.8" fill="#d11f44" stroke="none" stroke-width="1" />
<circle cx="451.50" cy="220.40" r="1.8" fill="#1d5a93" stroke="none" stroke-width="1" />
<circle cx="453.70" cy="220.00" r="1.8" fill="#1d5a93" stroke="none" stroke-width="1" />
<circle cx="454.50" cy="221.50" r="1.8" fill="#d11f44" stroke="none" stroke-width="1" />
<circle cx="452.20" cy="223.50" r="1.8" fill="#1d5a93" stroke="none" stroke-width="1" />
<circle cx="453.30" cy="223.10" r="1.8" fill="#1d5a93" stroke="none" stroke-width="1" />
<circle cx="451.50" cy="227.60" r="1.8" fill="#1d5a93" stroke="none" stroke-width="1" />
<circle cx="454.10" cy="228.00" r="1.8" fill="#1d5a93" stroke="none" stroke-width="1" />
<circle cx="452.20" cy="230.30" r="1.8" fill="#d11f44" stroke="none" stroke-width="1" />
<circle cx="453.70" cy="230.30" r="1.8" fill="#d11f44" stroke="none" stroke-width="1" />
<circle cx="452.60" cy="238.70" r="1.8" fill="#1d5a93" stroke="none" stroke-width="1" />
<circle cx="452.60" cy="241.00" r="1.8" fill="#1d5a93" stroke="none" stroke-width="1" />
<circle cx="453.00" cy="242.90" r="1.8" fill="#1d5a93" stroke="none" stroke-width="1" />
<circle cx="452.60" cy="244.80" r="1.8" fill="#1d5a93" stroke="none" stroke-width="1" />
<circle cx="452.90" cy="262.40" r="1.8" fill="#1d5a93" stroke="none" stroke-width="1" />
<circle cx="490.00" cy="185.10" r="1.8" fill="#d11f44" stroke="none" stroke-width="1" />
<circle cx="490.00" cy="191.20" r="1.8" fill="#d11f44" stroke="none" stroke-width="1" />
<circle cx="490.50" cy="194.00" r="1.8" fill="#d11f44" stroke="none" stroke-width="1" />
<circle cx="489.50" cy="198.20" r="1.8" fill="#d11f44" stroke="none" stroke-width="1" />
<circle cx="490.60" cy="200.50" r="1.8" fill="#d11f44" stroke="none" stroke-width="1" />
<circle cx="489.60" cy="202.80" r="1.8" fill="#d11f44" stroke="none" stroke-width="1" />
<circle cx="490.00" cy="210.30" r="1.8" fill="#d11f44" stroke="none" stroke-width="1" />
<circle cx="491.00" cy="211.50" r="1.8" fill="#d11f44" stroke="none" stroke-width="1" />
<circle cx="490.00" cy="217.30" r="1.8" fill="#1d5a93" stroke="none" stroke-width="1" />
<circle cx="490.00" cy="221.50" r="1.8" fill="#1d5a93" stroke="none" stroke-width="1" />
<circle cx="490.00" cy="225.50" r="1.8" fill="#1d5a93" stroke="none" stroke-width="1" />
<circle cx="489.50" cy="230.00" r="1.8" fill="#1d5a93" stroke="none" stroke-width="1" />
<circle cx="491.00" cy="231.70" r="1.8" fill="#1d5a93" stroke="none" stroke-width="1" />
<circle cx="490.00" cy="233.00" r="1.8" fill="#1d5a93" stroke="none" stroke-width="1" />
<circle cx="489.50" cy="241.80" r="1.8" fill="#1d5a93" stroke="none" stroke-width="1" />
<circle cx="490.60" cy="243.40" r="1.8" fill="#1d5a93" stroke="none" stroke-width="1" />
<circle cx="490.00" cy="261.10" r="1.8" fill="#1d5a93" stroke="none" stroke-width="1" />
<circle cx="490.00" cy="280.90" r="1.8" fill="#d11f44" stroke="none" stroke-width="1" />
<circle cx="488.80" cy="196.00" r="1.8" fill="#d11f44" stroke="none" stroke-width="1" />
<circle cx="491.30" cy="196.00" r="1.8" fill="#d11f44" stroke="none" stroke-width="1" />
<circle cx="489.20" cy="228.00" r="1.8" fill="#1d5a93" stroke="none" stroke-width="1" />
<circle cx="490.90" cy="239.50" r="1.8" fill="#1d5a93" stroke="none" stroke-width="1" />
<line x1="452.70" y1="173.70" x2="452.70" y2="245.00" stroke="#666" stroke-width="0.9" />
<line x1="490.00" y1="185.00" x2="490.00" y2="261.00" stroke="#666" stroke-width="0.9" />
<rect x="446.60" y="193.30" width="12.40" height="21.20" fill="none" stroke="#222" stroke-width="0.8" />
<line x1="446.60" y1="206.50" x2="459.00" y2="206.50" stroke="#111" stroke-width="1.2" />
<rect x="484.40" y="201.40" width="11.20" height="31.00" fill="none" stroke="#222" stroke-width="0.8" />
<line x1="484.40" y1="221.30" x2="495.60" y2="221.30" stroke="#111" stroke-width="1.2" />
<rect x="430.50" y="168.40" width="81.90" height="117.50" fill="none" stroke="#111" stroke-width="1.2" />
<line x1="452.80" y1="285.90" x2="452.80" y2="288.70" stroke="#333" stroke-width="0.9" />
<line x1="489.90" y1="285.90" x2="489.90" y2="288.70" stroke="#333" stroke-width="0.9" />
<text x="452.70" y="295.80" font-size="7.0" text-anchor="middle" fill="#2e2e2e" stroke="#2e2e2e" stroke-width="0.2" textLength="16.2" lengthAdjust="spacingAndGlyphs" >other</text>
<text x="452.70" y="303.50" font-size="7.0" text-anchor="middle" fill="#2e2e2e" stroke="#2e2e2e" stroke-width="0.2" textLength="25" lengthAdjust="spacingAndGlyphs" >(N = 59)</text>
<text x="490.00" y="295.80" font-size="7.0" text-anchor="middle" fill="#2e2e2e" stroke="#2e2e2e" stroke-width="0.2" textLength="33" lengthAdjust="spacingAndGlyphs" >trisomy 12</text>
<text x="490.00" y="303.50" font-size="7.0" text-anchor="middle" fill="#2e2e2e" stroke="#2e2e2e" stroke-width="0.2" textLength="25.7" lengthAdjust="spacingAndGlyphs" >(N = 23)</text>
<text x="428.70" y="315.60" font-size="7.5" text-anchor="start" fill="#2e2e2e" stroke="#2e2e2e" stroke-width="0.2" textLength="16.9" lengthAdjust="spacingAndGlyphs" >IGHV</text>
<circle cx="452.70" cy="313.50" r="1.6" fill="#d11f44" stroke="none" stroke-width="1" />
<text x="456.50" y="315.60" font-size="7.5" text-anchor="start" fill="#2e2e2e" stroke="#2e2e2e" stroke-width="0.2" textLength="21.5" lengthAdjust="spacingAndGlyphs" >M−CLL</text>
<circle cx="486.00" cy="313.50" r="1.6" fill="#1d5a93" stroke="none" stroke-width="1" />
<text x="490.20" y="315.60" font-size="7.5" text-anchor="start" fill="#2e2e2e" stroke="#2e2e2e" stroke-width="0.2" textLength="21.8" lengthAdjust="spacingAndGlyphs" >U−CLL</text>
<text x="5.90" y="331.10" font-size="11.2" text-anchor="start" fill="#000" font-weight="bold" >C</text>
<text x="395.20" y="331.50" font-size="11.2" text-anchor="start" fill="#000" font-weight="bold" >F</text>
<text x="11.60" y="382.20" font-size="9.0" text-anchor="middle" fill="#2e2e2e" stroke="#2e2e2e" stroke-width="0.2" textLength="62" lengthAdjust="spacingAndGlyphs" transform="rotate(-90 11.60 382.20)" >Protein expression</text>
<text x="84.75" y="334.20" font-size="8.2" text-anchor="middle" fill="#111" font-weight="bold" textLength="72.3" lengthAdjust="spacingAndGlyphs" >Cobimetinib ~ STAT2</text>
<text x="134.00" y="345.00" font-size="5.6" text-anchor="end" fill="#a3343f" >N = 82</text>
<text x="134.00" y="352.20" font-size="5.6" text-anchor="end" fill="#a3343f" ><tspan font-style="italic">P</tspan> = 6.3e−12</text>
<text x="134.00" y="359.40" font-size="5.6" text-anchor="end" fill="#a3343f" >R = −0.66</text>
<circle cx="35.70" cy="357.20" r="2.1" fill="none" stroke="#6b98c4" stroke-width="0.85" />
<circle cx="56.30" cy="343.10" r="2.1" fill="none" stroke="#6b98c4" stroke-width="0.85" />
<circle cx="74.80" cy="344.50" r="2.1" fill="none" stroke="#6b98c4" stroke-width="0.85" />
<circle cx="82.50" cy="350.10" r="2.1" fill="none" stroke="#6b98c4" stroke-width="0.85" />
<circle cx="96.20" cy="355.20" r="2.1" fill="none" stroke="#6b98c4" stroke-width="0.85" />
<circle cx="68.40" cy="358.20" r="2.1" fill="none" stroke="#6b98c4" stroke-width="0.85" />
<circle cx="76.00" cy="362.90" r="2.1" fill="none" stroke="#6b98c4" stroke-width="0.85" />
<circle cx="79.50" cy="364.90" r="2.1" fill="none" stroke="#6b98c4" stroke-width="0.85" />
<circle cx="88.60" cy="360.80" r="2.1" fill="none" stroke="#6b98c4" stroke-width="0.85" />
<circle cx="84.90" cy="367.70" r="2.1" fill="none" stroke="#6b98c4" stroke-width="0.85" />
<circle cx="63.30" cy="379.80" r="2.1" fill="none" stroke="#6b98c4" stroke-width="0.85" />
<circle cx="101.10" cy="377.40" r="2.1" fill="none" stroke="#6b98c4" stroke-width="0.85" />
<circle cx="95.00" cy="365.90" r="2.1" fill="none" stroke="#f6b46a" stroke-width="0.85" />
<circle cx="106.30" cy="362.30" r="2.1" fill="none" stroke="#f6b46a" stroke-width="0.85" />
<circle cx="84.10" cy="375.40" r="2.1" fill="none" stroke="#f6b46a" stroke-width="0.85" />
<circle cx="91.20" cy="381.40" r="2.1" fill="none" stroke="#f6b46a" stroke-width="0.85" />
<circle cx="105.70" cy="378.40" r="2.1" fill="none" stroke="#f6b46a" stroke-width="0.85" />
<circle cx="113.80" cy="379.00" r="2.1" fill="none" stroke="#f6b46a" stroke-width="0.85" />
<circle cx="102.30" cy="385.50" r="2.1" fill="none" stroke="#f6b46a" stroke-width="0.85" />
<circle cx="91.10" cy="389.60" r="2.1" fill="none" stroke="#f6b46a" stroke-width="0.85" />
<circle cx="94.80" cy="398.20" r="2.1" fill="none" stroke="#f6b46a" stroke-width="0.85" />
<circle cx="103.70" cy="394.80" r="2.1" fill="none" stroke="#f6b46a" stroke-width="0.85" />
<circle cx="109.60" cy="407.40" r="2.1" fill="none" stroke="#f6b46a" stroke-width="0.85" />
<circle cx="112.90" cy="406.20" r="2.1" fill="none" stroke="#f6b46a" stroke-width="0.85" />
<circle cx="108.90" cy="389.60" r="2.1" fill="none" stroke="#f6b46a" stroke-width="0.85" />
<circle cx="103.00" cy="383.00" r="2.1" fill="none" stroke="#f6b46a" stroke-width="0.85" />
<circle cx="125.90" cy="388.10" r="2.1" fill="none" stroke="#f6b46a" stroke-width="0.85" />
<circle cx="120.70" cy="374.50" r="2.3" fill="#f7931e" stroke="none" stroke-width="1" />
<circle cx="109.30" cy="375.60" r="2.3" fill="#f7931e" stroke="none" stroke-width="1" />
<circle cx="117.00" cy="380.70" r="2.3" fill="#f7931e" stroke="none" stroke-width="1" />
<circle cx="111.10" cy="385.50" r="2.3" fill="#f7931e" stroke="none" stroke-width="1" />
<circle cx="133.00" cy="384.00" r="2.3" fill="#f7931e" stroke="none" stroke-width="1" />
<circle cx="125.20" cy="388.90" r="2.3" fill="#f7931e" stroke="none" stroke-width="1" />
<circle cx="124.10" cy="391.40" r="2.3" fill="#f7931e" stroke="none" stroke-width="1" />
<circle cx="115.60" cy="390.80" r="2.3" fill="#f7931e" stroke="none" stroke-width="1" />
<circle cx="117.80" cy="390.80" r="2.3" fill="#f7931e" stroke="none" stroke-width="1" />
<circle cx="98.10" cy="394.10" r="2.3" fill="#f7931e" stroke="none" stroke-width="1" />
<circle cx="105.90" cy="396.30" r="2.3" fill="#f7931e" stroke="none" stroke-width="1" />
<circle cx="108.90" cy="397.80" r="2.3" fill="#f7931e" stroke="none" stroke-width="1" />
<circle cx="112.60" cy="399.30" r="2.3" fill="#f7931e" stroke="none" stroke-width="1" />
<circle cx="113.80" cy="401.50" r="2.3" fill="#f7931e" stroke="none" stroke-width="1" />
<circle cx="119.30" cy="398.80" r="2.3" fill="#f7931e" stroke="none" stroke-width="1" />
<circle cx="122.20" cy="400.00" r="2.3" fill="#f7931e" stroke="none" stroke-width="1" />
<circle cx="121.50" cy="403.00" r="2.3" fill="#f7931e" stroke="none" stroke-width="1" />
<circle cx="116.30" cy="405.20" r="2.3" fill="#f7931e" stroke="none" stroke-width="1" />
<circle cx="119.30" cy="408.10" r="2.3" fill="#f7931e" stroke="none" stroke-width="1" />
<circle cx="124.40" cy="407.40" r="2.3" fill="#f7931e" stroke="none" stroke-width="1" />
<circle cx="127.70" cy="409.60" r="2.3" fill="#f7931e" stroke="none" stroke-width="1" />
<circle cx="114.40" cy="410.70" r="2.3" fill="#f7931e" stroke="none" stroke-width="1" />
<circle cx="113.80" cy="415.10" r="2.3" fill="#f7931e" stroke="none" stroke-width="1" />
<circle cx="108.40" cy="423.00" r="2.3" fill="#f7931e" stroke="none" stroke-width="1" />
<circle cx="120.70" cy="424.00" r="2.3" fill="#f7931e" stroke="none" stroke-width="1" />
<circle cx="96.00" cy="380.00" r="2.3" fill="#f7931e" stroke="none" stroke-width="1" />
<circle cx="124.40" cy="394.10" r="2.3" fill="#f7931e" stroke="none" stroke-width="1" />
<circle cx="103.70" cy="358.20" r="2.3" fill="#0f4c81" stroke="none" stroke-width="1" />
<circle cx="117.20" cy="374.40" r="2.3" fill="#0f4c81" stroke="none" stroke-width="1" />
<circle cx="101.70" cy="379.00" r="2.3" fill="#0f4c81" stroke="none" stroke-width="1" />
<circle cx="98.10" cy="381.40" r="2.3" fill="#0f4c81" stroke="none" stroke-width="1" />
<circle cx="118.20" cy="385.50" r="2.3" fill="#0f4c81" stroke="none" stroke-width="1" />
<circle cx="110.40" cy="387.90" r="2.3" fill="#0f4c81" stroke="none" stroke-width="1" />
<circle cx="87.40" cy="391.10" r="2.3" fill="#0f4c81" stroke="none" stroke-width="1" />
<circle cx="116.30" cy="394.10" r="2.3" fill="#0f4c81" stroke="none" stroke-width="1" />
<circle cx="131.40" cy="383.60" r="2.3" fill="#0f4c81" stroke="none" stroke-width="1" />
<circle cx="117.80" cy="414.10" r="2.3" fill="#0f4c81" stroke="none" stroke-width="1" />
<line x1="34.70" y1="341.30" x2="130.50" y2="402.20" stroke="#5f5f5f" stroke-width="1.0" stroke-dasharray="3.4 2.4"/>
<rect x="31.70" y="337.00" width="106.10" height="90.40" fill="none" stroke="#111" stroke-width="1.2" />
<line x1="28.70" y1="337.90" x2="31.70" y2="337.90" stroke="#333" stroke-width="0.9" />
<text x="27.60" y="340.10" font-size="6.5" text-anchor="end" fill="#444" stroke="#444" stroke-width="0.2" textLength="12.2" lengthAdjust="spacingAndGlyphs" >17.5</text>
<line x1="28.70" y1="355.24" x2="31.70" y2="355.24" stroke="#333" stroke-width="0.9" />
<text x="27.60" y="357.44" font-size="6.5" text-anchor="end" fill="#444" stroke="#444" stroke-width="0.2" textLength="12.2" lengthAdjust="spacingAndGlyphs" >17.0</text>
<line x1="28.70" y1="372.58" x2="31.70" y2="372.58" stroke="#333" stroke-width="0.9" />
<text x="27.60" y="374.78" font-size="6.5" text-anchor="end" fill="#444" stroke="#444" stroke-width="0.2" textLength="12.2" lengthAdjust="spacingAndGlyphs" >16.5</text>
<line x1="28.70" y1="389.92" x2="31.70" y2="389.92" stroke="#333" stroke-width="0.9" />
<text x="27.60" y="392.12" font-size="6.5" text-anchor="end" fill="#444" stroke="#444" stroke-width="0.2" textLength="12.2" lengthAdjust="spacingAndGlyphs" >16.0</text>
<line x1="28.70" y1="407.26" x2="31.70" y2="407.26" stroke="#333" stroke-width="0.9" />
<text x="27.60" y="409.46" font-size="6.5" text-anchor="end" fill="#444" stroke="#444" stroke-width="0.2" textLength="12.2" lengthAdjust="spacingAndGlyphs" >15.5</text>
<line x1="28.70" y1="424.60" x2="31.70" y2="424.60" stroke="#333" stroke-width="0.9" />
<text x="27.60" y="426.80" font-size="6.5" text-anchor="end" fill="#444" stroke="#444" stroke-width="0.2" textLength="12.2" lengthAdjust="spacingAndGlyphs" >15.0</text>
<line x1="38.80" y1="427.40" x2="38.80" y2="430.40" stroke="#333" stroke-width="0.9" />
<text x="38.80" y="438.60" font-size="6.5" text-anchor="middle" fill="#444" stroke="#444" stroke-width="0.2" textLength="9.6" lengthAdjust="spacingAndGlyphs" >0.4</text>
<line x1="68.40" y1="427.40" x2="68.40" y2="430.40" stroke="#333" stroke-width="0.9" />
<text x="68.40" y="438.60" font-size="6.5" text-anchor="middle" fill="#444" stroke="#444" stroke-width="0.2" textLength="9.6" lengthAdjust="spacingAndGlyphs" >0.6</text>
<line x1="98.00" y1="427.40" x2="98.00" y2="430.40" stroke="#333" stroke-width="0.9" />
<text x="98.00" y="438.60" font-size="6.5" text-anchor="middle" fill="#444" stroke="#444" stroke-width="0.2" textLength="9.6" lengthAdjust="spacingAndGlyphs" >0.8</text>
<line x1="127.60" y1="427.40" x2="127.60" y2="430.40" stroke="#333" stroke-width="0.9" />
<text x="127.60" y="438.60" font-size="6.5" text-anchor="middle" fill="#444" stroke="#444" stroke-width="0.2" textLength="9.6" lengthAdjust="spacingAndGlyphs" >1.0</text>
<text x="84.75" y="449.40" font-size="9.4" text-anchor="middle" fill="#2e2e2e" stroke="#2e2e2e" stroke-width="0.2" textLength="79" lengthAdjust="spacingAndGlyphs" >Viability after treatment</text>
<text x="208.35" y="334.20" font-size="8.2" text-anchor="middle" fill="#111" font-weight="bold" textLength="72.5" lengthAdjust="spacingAndGlyphs" >Trametinib ~ PTPN11</text>
<text x="259.20" y="343.70" font-size="5.6" text-anchor="end" fill="#a3343f" >N = 82</text>
<text x="259.20" y="350.90" font-size="5.6" text-anchor="end" fill="#a3343f" ><tspan font-style="italic">P</tspan> = 2.7e−04</text>
<text x="259.20" y="358.10" font-size="5.6" text-anchor="end" fill="#a3343f" >R = −0.39</text>
<circle cx="159.20" cy="345.70" r="2.1" fill="none" stroke="#6b98c4" stroke-width="0.85" />
<circle cx="181.20" cy="340.40" r="2.1" fill="none" stroke="#6b98c4" stroke-width="0.85" />
<circle cx="186.50" cy="342.00" r="2.1" fill="none" stroke="#6b98c4" stroke-width="0.85" />
<circle cx="190.40" cy="345.70" r="2.1" fill="none" stroke="#6b98c4" stroke-width="0.85" />
<circle cx="210.50" cy="354.20" r="2.1" fill="none" stroke="#6b98c4" stroke-width="0.85" />
<circle cx="216.90" cy="348.50" r="2.1" fill="none" stroke="#6b98c4" stroke-width="0.85" />
<circle cx="216.50" cy="350.30" r="2.1" fill="none" stroke="#6b98c4" stroke-width="0.85" />
<circle cx="229.60" cy="345.70" r="2.1" fill="none" stroke="#6b98c4" stroke-width="0.85" />
<circle cx="205.80" cy="362.80" r="2.1" fill="none" stroke="#6b98c4" stroke-width="0.85" />
<circle cx="220.40" cy="362.80" r="2.1" fill="none" stroke="#6b98c4" stroke-width="0.85" />
<circle cx="193.40" cy="373.80" r="2.1" fill="none" stroke="#6b98c4" stroke-width="0.85" />
<circle cx="192.70" cy="383.50" r="2.1" fill="none" stroke="#6b98c4" stroke-width="0.85" />
<circle cx="210.50" cy="368.10" r="2.1" fill="none" stroke="#f6b46a" stroke-width="0.85" />
<circle cx="233.10" cy="366.90" r="2.1" fill="none" stroke="#f6b46a" stroke-width="0.85" />
<circle cx="237.70" cy="369.70" r="2.1" fill="none" stroke="#f6b46a" stroke-width="0.85" />
<circle cx="217.40" cy="378.50" r="2.1" fill="none" stroke="#f6b46a" stroke-width="0.85" />
<circle cx="225.00" cy="376.20" r="2.1" fill="none" stroke="#f6b46a" stroke-width="0.85" />
<circle cx="237.20" cy="376.80" r="2.1" fill="none" stroke="#f6b46a" stroke-width="0.85" />
<circle cx="219.20" cy="385.40" r="2.1" fill="none" stroke="#f6b46a" stroke-width="0.85" />
<circle cx="231.90" cy="381.20" r="2.1" fill="none" stroke="#f6b46a" stroke-width="0.85" />
<circle cx="238.90" cy="384.20" r="2.1" fill="none" stroke="#f6b46a" stroke-width="0.85" />
<circle cx="251.50" cy="386.50" r="2.1" fill="none" stroke="#f6b46a" stroke-width="0.85" />
<circle cx="214.60" cy="394.60" r="2.1" fill="none" stroke="#f6b46a" stroke-width="0.85" />
<circle cx="218.10" cy="399.20" r="2.1" fill="none" stroke="#f6b46a" stroke-width="0.85" />
<circle cx="226.60" cy="392.80" r="2.1" fill="none" stroke="#f6b46a" stroke-width="0.85" />
<circle cx="228.50" cy="396.90" r="2.1" fill="none" stroke="#f6b46a" stroke-width="0.85" />
<circle cx="234.90" cy="401.50" r="2.1" fill="none" stroke="#f6b46a" stroke-width="0.85" />
<circle cx="225.70" cy="403.80" r="2.1" fill="none" stroke="#f6b46a" stroke-width="0.85" />
<circle cx="235.40" cy="405.70" r="2.1" fill="none" stroke="#f6b46a" stroke-width="0.85" />
<circle cx="255.00" cy="400.40" r="2.1" fill="none" stroke="#f6b46a" stroke-width="0.85" />
<circle cx="249.20" cy="410.30" r="2.1" fill="none" stroke="#f6b46a" stroke-width="0.85" />
<circle cx="216.50" cy="420.50" r="2.1" fill="none" stroke="#f6b46a" stroke-width="0.85" />
<circle cx="240.50" cy="369.70" r="2.3" fill="#f7931e" stroke="none" stroke-width="1" />
<circle cx="244.20" cy="370.40" r="2.3" fill="#f7931e" stroke="none" stroke-width="1" />
<circle cx="246.90" cy="373.80" r="2.3" fill="#f7931e" stroke="none" stroke-width="1" />
<circle cx="251.10" cy="372.00" r="2.3" fill="#f7931e" stroke="none" stroke-width="1" />
<circle cx="231.20" cy="375.70" r="2.3" fill="#f7931e" stroke="none" stroke-width="1" />
<circle cx="220.40" cy="378.90" r="2.3" fill="#f7931e" stroke="none" stroke-width="1" />
<circle cx="242.30" cy="377.30" r="2.3" fill="#f7931e" stroke="none" stroke-width="1" />
<circle cx="228.00" cy="384.90" r="2.3" fill="#f7931e" stroke="none" stroke-width="1" />
<circle cx="243.50" cy="381.90" r="2.3" fill="#f7931e" stroke="none" stroke-width="1" />
<circle cx="248.10" cy="381.20" r="2.3" fill="#f7931e" stroke="none" stroke-width="1" />
<circle cx="240.50" cy="385.90" r="2.3" fill="#f7931e" stroke="none" stroke-width="1" />
<circle cx="234.20" cy="391.20" r="2.3" fill="#f7931e" stroke="none" stroke-width="1" />
<circle cx="245.10" cy="390.50" r="2.3" fill="#f7931e" stroke="none" stroke-width="1" />
<circle cx="250.40" cy="388.80" r="2.3" fill="#f7931e" stroke="none" stroke-width="1" />
<circle cx="234.90" cy="394.60" r="2.3" fill="#f7931e" stroke="none" stroke-width="1" />
<circle cx="241.20" cy="393.50" r="2.3" fill="#f7931e" stroke="none" stroke-width="1" />
<circle cx="252.70" cy="395.10" r="2.3" fill="#f7931e" stroke="none" stroke-width="1" />
<circle cx="219.70" cy="399.20" r="2.3" fill="#f7931e" stroke="none" stroke-width="1" />
<circle cx="244.20" cy="399.70" r="2.3" fill="#f7931e" stroke="none" stroke-width="1" />
<circle cx="246.90" cy="406.20" r="2.3" fill="#f7931e" stroke="none" stroke-width="1" />
<circle cx="256.60" cy="415.40" r="2.3" fill="#f7931e" stroke="none" stroke-width="1" />
<circle cx="232.60" cy="417.70" r="2.3" fill="#f7931e" stroke="none" stroke-width="1" />
<circle cx="238.20" cy="423.00" r="2.3" fill="#f7931e" stroke="none" stroke-width="1" />
<circle cx="239.50" cy="383.00" r="2.3" fill="#f7931e" stroke="none" stroke-width="1" />
<circle cx="241.50" cy="388.00" r="2.3" fill="#f7931e" stroke="none" stroke-width="1" />
<circle cx="246.70" cy="385.20" r="2.3" fill="#f7931e" stroke="none" stroke-width="1" />
<circle cx="243.50" cy="391.50" r="2.3" fill="#f7931e" stroke="none" stroke-width="1" />
<circle cx="242.30" cy="345.00" r="2.3" fill="#0f4c81" stroke="none" stroke-width="1" />
<circle cx="237.70" cy="351.90" r="2.3" fill="#0f4c81" stroke="none" stroke-width="1" />
<circle cx="241.20" cy="355.40" r="2.3" fill="#0f4c81" stroke="none" stroke-width="1" />
<circle cx="228.50" cy="358.20" r="2.3" fill="#0f4c81" stroke="none" stroke-width="1" />
<circle cx="236.50" cy="358.80" r="2.3" fill="#0f4c81" stroke="none" stroke-width="1" />
<circle cx="245.10" cy="357.20" r="2.3" fill="#0f4c81" stroke="none" stroke-width="1" />
<circle cx="252.00" cy="358.80" r="2.3" fill="#0f4c81" stroke="none" stroke-width="1" />
<circle cx="214.20" cy="366.20" r="2.3" fill="#0f4c81" stroke="none" stroke-width="1" />
<circle cx="249.70" cy="375.00" r="2.3" fill="#0f4c81" stroke="none" stroke-width="1" />
<circle cx="241.60" cy="362.50" r="2.3" fill="#0f4c81" stroke="none" stroke-width="1" />
<line x1="159.20" y1="348.90" x2="256.60" y2="389.50" stroke="#5f5f5f" stroke-width="1.0" stroke-dasharray="3.4 2.4"/>
<rect x="155.30" y="337.00" width="106.10" height="90.40" fill="none" stroke="#111" stroke-width="1.2" />
<line x1="152.30" y1="366.40" x2="155.30" y2="366.40" stroke="#333" stroke-width="0.9" />
<text x="151.30" y="368.60" font-size="6.5" text-anchor="end" fill="#444" stroke="#444" stroke-width="0.2" textLength="12.2" lengthAdjust="spacingAndGlyphs" >17.5</text>
<line x1="152.30" y1="396.90" x2="155.30" y2="396.90" stroke="#333" stroke-width="0.9" />
<text x="151.30" y="399.10" font-size="6.5" text-anchor="end" fill="#444" stroke="#444" stroke-width="0.2" textLength="12.2" lengthAdjust="spacingAndGlyphs" >17.0</text>
<line x1="164.30" y1="427.40" x2="164.30" y2="430.40" stroke="#333" stroke-width="0.9" />
<text x="164.30" y="438.60" font-size="6.5" text-anchor="middle" fill="#444" stroke="#444" stroke-width="0.2" textLength="9.6" lengthAdjust="spacingAndGlyphs" >0.4</text>
<line x1="195.20" y1="427.40" x2="195.20" y2="430.40" stroke="#333" stroke-width="0.9" />
<text x="195.20" y="438.60" font-size="6.5" text-anchor="middle" fill="#444" stroke="#444" stroke-width="0.2" textLength="9.6" lengthAdjust="spacingAndGlyphs" >0.6</text>
<line x1="226.10" y1="427.40" x2="226.10" y2="430.40" stroke="#333" stroke-width="0.9" />
<text x="226.10" y="438.60" font-size="6.5" text-anchor="middle" fill="#444" stroke="#444" stroke-width="0.2" textLength="9.6" lengthAdjust="spacingAndGlyphs" >0.8</text>
<line x1="257.00" y1="427.40" x2="257.00" y2="430.40" stroke="#333" stroke-width="0.9" />
<text x="257.00" y="438.60" font-size="6.5" text-anchor="middle" fill="#444" stroke="#444" stroke-width="0.2" textLength="9.6" lengthAdjust="spacingAndGlyphs" >1.0</text>
<text x="208.35" y="449.40" font-size="9.4" text-anchor="middle" fill="#2e2e2e" stroke="#2e2e2e" stroke-width="0.2" textLength="79" lengthAdjust="spacingAndGlyphs" >Viability after treatment</text>
<text x="333.95" y="334.20" font-size="8.2" text-anchor="middle" fill="#111" font-weight="bold" textLength="64" lengthAdjust="spacingAndGlyphs" >Ibrutinib ~ ANXA2</text>
<text x="382.80" y="343.70" font-size="5.6" text-anchor="end" fill="#a3343f" >N = 82</text>
<text x="382.80" y="350.90" font-size="5.6" text-anchor="end" fill="#a3343f" ><tspan font-style="italic">P</tspan> = 3.2e−07</text>
<text x="382.80" y="358.10" font-size="5.6" text-anchor="end" fill="#a3343f" >R = −0.51</text>
<circle cx="301.20" cy="357.20" r="2.1" fill="none" stroke="#6b98c4" stroke-width="0.85" />
<circle cx="321.20" cy="363.50" r="2.1" fill="none" stroke="#6b98c4" stroke-width="0.85" />
<circle cx="326.50" cy="362.30" r="2.1" fill="none" stroke="#6b98c4" stroke-width="0.85" />
<circle cx="338.80" cy="360.00" r="2.1" fill="none" stroke="#6b98c4" stroke-width="0.85" />
<circle cx="345.00" cy="355.80" r="2.1" fill="none" stroke="#6b98c4" stroke-width="0.85" />
<circle cx="344.30" cy="362.80" r="2.1" fill="none" stroke="#6b98c4" stroke-width="0.85" />
<circle cx="317.30" cy="374.30" r="2.1" fill="none" stroke="#6b98c4" stroke-width="0.85" />
<circle cx="334.60" cy="370.40" r="2.1" fill="none" stroke="#6b98c4" stroke-width="0.85" />
<circle cx="330.50" cy="381.90" r="2.1" fill="none" stroke="#6b98c4" stroke-width="0.85" />
<circle cx="334.20" cy="378.50" r="2.1" fill="none" stroke="#6b98c4" stroke-width="0.85" />
<circle cx="317.30" cy="392.80" r="2.1" fill="none" stroke="#6b98c4" stroke-width="0.85" />
<circle cx="331.20" cy="340.40" r="2.1" fill="none" stroke="#f6b46a" stroke-width="0.85" />
<circle cx="299.50" cy="354.90" r="2.1" fill="none" stroke="#f6b46a" stroke-width="0.85" />
<circle cx="311.10" cy="359.50" r="2.1" fill="none" stroke="#f6b46a" stroke-width="0.85" />
<circle cx="324.20" cy="351.90" r="2.1" fill="none" stroke="#f6b46a" stroke-width="0.85" />
<circle cx="353.10" cy="351.90" r="2.1" fill="none" stroke="#f6b46a" stroke-width="0.85" />
<circle cx="358.20" cy="362.80" r="2.1" fill="none" stroke="#f6b46a" stroke-width="0.85" />
<circle cx="337.40" cy="372.70" r="2.1" fill="none" stroke="#f6b46a" stroke-width="0.85" />
<circle cx="324.90" cy="374.30" r="2.1" fill="none" stroke="#f6b46a" stroke-width="0.85" />
<circle cx="321.20" cy="381.20" r="2.1" fill="none" stroke="#f6b46a" stroke-width="0.85" />
<circle cx="335.10" cy="388.20" r="2.1" fill="none" stroke="#f6b46a" stroke-width="0.85" />
<circle cx="323.50" cy="390.50" r="2.1" fill="none" stroke="#f6b46a" stroke-width="0.85" />
<circle cx="336.90" cy="409.60" r="2.1" fill="none" stroke="#f6b46a" stroke-width="0.85" />
<circle cx="353.30" cy="371.70" r="2.1" fill="none" stroke="#f6b46a" stroke-width="0.85" />
<circle cx="354.70" cy="375.70" r="2.1" fill="none" stroke="#f6b46a" stroke-width="0.85" />
<circle cx="354.00" cy="383.00" r="2.1" fill="none" stroke="#f6b46a" stroke-width="0.85" />
<circle cx="346.00" cy="384.70" r="2.1" fill="none" stroke="#f6b46a" stroke-width="0.85" />
<circle cx="347.30" cy="389.70" r="2.1" fill="none" stroke="#f6b46a" stroke-width="0.85" />
<circle cx="361.30" cy="391.00" r="2.1" fill="none" stroke="#f6b46a" stroke-width="0.85" />
<circle cx="358.00" cy="398.00" r="2.1" fill="none" stroke="#f6b46a" stroke-width="0.85" />
<circle cx="354.70" cy="411.00" r="2.1" fill="none" stroke="#f6b46a" stroke-width="0.85" />
<circle cx="342.00" cy="371.40" r="2.1" fill="none" stroke="#6b98c4" stroke-width="0.85" />
<circle cx="358.00" cy="372.30" r="2.3" fill="#f7931e" stroke="none" stroke-width="1" />
<circle cx="358.70" cy="375.40" r="2.3" fill="#f7931e" stroke="none" stroke-width="1" />
<circle cx="359.30" cy="378.30" r="2.3" fill="#f7931e" stroke="none" stroke-width="1" />
<circle cx="360.00" cy="381.00" r="2.3" fill="#f7931e" stroke="none" stroke-width="1" />
<circle cx="371.30" cy="371.00" r="2.3" fill="#f7931e" stroke="none" stroke-width="1" />
<circle cx="365.10" cy="378.10" r="2.3" fill="#f7931e" stroke="none" stroke-width="1" />
<circle cx="344.30" cy="379.70" r="2.3" fill="#f7931e" stroke="none" stroke-width="1" />
<circle cx="348.70" cy="379.40" r="2.3" fill="#f7931e" stroke="none" stroke-width="1" />
<circle cx="354.00" cy="387.00" r="2.3" fill="#f7931e" stroke="none" stroke-width="1" />
<circle cx="380.00" cy="386.30" r="2.3" fill="#f7931e" stroke="none" stroke-width="1" />
<circle cx="381.60" cy="385.70" r="2.3" fill="#f7931e" stroke="none" stroke-width="1" />
<circle cx="373.30" cy="389.00" r="2.3" fill="#f7931e" stroke="none" stroke-width="1" />
<circle cx="360.70" cy="395.00" r="2.3" fill="#f7931e" stroke="none" stroke-width="1" />
<circle cx="360.00" cy="397.00" r="2.3" fill="#f7931e" stroke="none" stroke-width="1" />
<circle cx="361.30" cy="399.00" r="2.3" fill="#f7931e" stroke="none" stroke-width="1" />
<circle cx="366.00" cy="401.70" r="2.3" fill="#f7931e" stroke="none" stroke-width="1" />
<circle cx="366.70" cy="403.00" r="2.3" fill="#f7931e" stroke="none" stroke-width="1" />
<circle cx="373.10" cy="394.30" r="2.3" fill="#f7931e" stroke="none" stroke-width="1" />
<circle cx="376.70" cy="399.40" r="2.3" fill="#f7931e" stroke="none" stroke-width="1" />
<circle cx="355.30" cy="404.70" r="2.3" fill="#f7931e" stroke="none" stroke-width="1" />
<circle cx="361.30" cy="405.00" r="2.3" fill="#f7931e" stroke="none" stroke-width="1" />
<circle cx="364.70" cy="406.30" r="2.3" fill="#f7931e" stroke="none" stroke-width="1" />
<circle cx="374.00" cy="411.00" r="2.3" fill="#f7931e" stroke="none" stroke-width="1" />
<circle cx="378.00" cy="410.00" r="2.3" fill="#f7931e" stroke="none" stroke-width="1" />
<circle cx="360.70" cy="414.30" r="2.3" fill="#f7931e" stroke="none" stroke-width="1" />
<circle cx="362.00" cy="416.30" r="2.3" fill="#f7931e" stroke="none" stroke-width="1" />
<circle cx="378.00" cy="415.40" r="2.3" fill="#f7931e" stroke="none" stroke-width="1" />
<circle cx="348.30" cy="423.00" r="2.3" fill="#f7931e" stroke="none" stroke-width="1" />
<circle cx="285.00" cy="378.00" r="2.3" fill="#0f4c81" stroke="none" stroke-width="1" />
<circle cx="367.30" cy="371.70" r="2.3" fill="#0f4c81" stroke="none" stroke-width="1" />
<circle cx="370.00" cy="375.70" r="2.3" fill="#0f4c81" stroke="none" stroke-width="1" />
<circle cx="379.30" cy="381.00" r="2.3" fill="#0f4c81" stroke="none" stroke-width="1" />
<circle cx="353.70" cy="394.00" r="2.3" fill="#0f4c81" stroke="none" stroke-width="1" />
<circle cx="372.70" cy="404.70" r="2.3" fill="#0f4c81" stroke="none" stroke-width="1" />
<circle cx="367.30" cy="411.00" r="2.3" fill="#0f4c81" stroke="none" stroke-width="1" />
<circle cx="368.00" cy="414.30" r="2.3" fill="#0f4c81" stroke="none" stroke-width="1" />
<circle cx="382.40" cy="415.40" r="2.3" fill="#0f4c81" stroke="none" stroke-width="1" />
<circle cx="357.30" cy="422.30" r="2.3" fill="#0f4c81" stroke="none" stroke-width="1" />
<circle cx="360.00" cy="421.00" r="2.3" fill="#0f4c81" stroke="none" stroke-width="1" />
<line x1="285.00" y1="353.10" x2="381.90" y2="400.40" stroke="#5f5f5f" stroke-width="1.0" stroke-dasharray="3.4 2.4"/>
<rect x="281.30" y="337.00" width="105.30" height="90.40" fill="none" stroke="#111" stroke-width="1.2" />
<line x1="278.30" y1="339.70" x2="281.30" y2="339.70" stroke="#333" stroke-width="0.9" />
<text x="277.10" y="341.90" font-size="6.5" text-anchor="end" fill="#444" stroke="#444" stroke-width="0.2" textLength="12.2" lengthAdjust="spacingAndGlyphs" >22.0</text>
<line x1="278.30" y1="359.10" x2="281.30" y2="359.10" stroke="#333" stroke-width="0.9" />
<text x="277.10" y="361.30" font-size="6.5" text-anchor="end" fill="#444" stroke="#444" stroke-width="0.2" textLength="12.2" lengthAdjust="spacingAndGlyphs" >21.5</text>
<line x1="278.30" y1="378.50" x2="281.30" y2="378.50" stroke="#333" stroke-width="0.9" />
<text x="277.10" y="380.70" font-size="6.5" text-anchor="end" fill="#444" stroke="#444" stroke-width="0.2" textLength="12.2" lengthAdjust="spacingAndGlyphs" >21.0</text>
<line x1="278.30" y1="397.90" x2="281.30" y2="397.90" stroke="#333" stroke-width="0.9" />
<text x="277.10" y="400.10" font-size="6.5" text-anchor="end" fill="#444" stroke="#444" stroke-width="0.2" textLength="12.2" lengthAdjust="spacingAndGlyphs" >20.5</text>
<line x1="278.30" y1="417.30" x2="281.30" y2="417.30" stroke="#333" stroke-width="0.9" />
<text x="277.10" y="419.50" font-size="6.5" text-anchor="end" fill="#444" stroke="#444" stroke-width="0.2" textLength="12.2" lengthAdjust="spacingAndGlyphs" >20.0</text>
<line x1="310.50" y1="427.40" x2="310.50" y2="430.40" stroke="#333" stroke-width="0.9" />
<text x="310.50" y="438.60" font-size="6.5" text-anchor="middle" fill="#444" stroke="#444" stroke-width="0.2" textLength="9.6" lengthAdjust="spacingAndGlyphs" >0.6</text>
<line x1="344.80" y1="427.40" x2="344.80" y2="430.40" stroke="#333" stroke-width="0.9" />
<text x="344.80" y="438.60" font-size="6.5" text-anchor="middle" fill="#444" stroke="#444" stroke-width="0.2" textLength="9.6" lengthAdjust="spacingAndGlyphs" >0.8</text>
<line x1="379.10" y1="427.40" x2="379.10" y2="430.40" stroke="#333" stroke-width="0.9" />
<text x="379.10" y="438.60" font-size="6.5" text-anchor="middle" fill="#444" stroke="#444" stroke-width="0.2" textLength="9.6" lengthAdjust="spacingAndGlyphs" >1.0</text>
<text x="333.95" y="449.40" font-size="9.4" text-anchor="middle" fill="#2e2e2e" stroke="#2e2e2e" stroke-width="0.2" textLength="79" lengthAdjust="spacingAndGlyphs" >Viability after treatment</text>
<text x="458.95" y="334.20" font-size="8.2" text-anchor="middle" fill="#111" font-weight="bold" textLength="60.6" lengthAdjust="spacingAndGlyphs" >Nutlin−3a ~ USP5</text>
<text x="507.70" y="343.70" font-size="5.6" text-anchor="end" fill="#a3343f" >N = 82</text>
<text x="507.70" y="350.90" font-size="5.6" text-anchor="end" fill="#a3343f" ><tspan font-style="italic">P</tspan> = 5.8e−06</text>
<text x="507.70" y="358.10" font-size="5.6" text-anchor="end" fill="#a3343f" >R = −0.48</text>
<circle cx="445.60" cy="359.00" r="2.1" fill="none" stroke="#6b98c4" stroke-width="0.85" />
<circle cx="461.30" cy="357.40" r="2.1" fill="none" stroke="#6b98c4" stroke-width="0.85" />
<circle cx="480.60" cy="370.60" r="2.1" fill="none" stroke="#6b98c4" stroke-width="0.85" />
<circle cx="448.90" cy="395.40" r="2.1" fill="none" stroke="#6b98c4" stroke-width="0.85" />
<circle cx="467.60" cy="383.80" r="2.1" fill="none" stroke="#6b98c4" stroke-width="0.85" />
<circle cx="501.20" cy="376.30" r="2.1" fill="none" stroke="#6b98c4" stroke-width="0.85" />
<circle cx="507.30" cy="384.40" r="2.1" fill="none" stroke="#6b98c4" stroke-width="0.85" />
<circle cx="501.20" cy="387.70" r="2.1" fill="none" stroke="#6b98c4" stroke-width="0.85" />
<circle cx="501.20" cy="402.30" r="2.1" fill="none" stroke="#6b98c4" stroke-width="0.85" />
<circle cx="439.20" cy="340.90" r="2.1" fill="none" stroke="#f6b46a" stroke-width="0.85" />
<circle cx="433.70" cy="345.80" r="2.1" fill="none" stroke="#f6b46a" stroke-width="0.85" />
<circle cx="436.50" cy="349.10" r="2.1" fill="none" stroke="#f6b46a" stroke-width="0.85" />
<circle cx="430.20" cy="358.20" r="2.1" fill="none" stroke="#f6b46a" stroke-width="0.85" />
<circle cx="439.20" cy="359.00" r="2.1" fill="none" stroke="#f6b46a" stroke-width="0.85" />
<circle cx="450.30" cy="359.00" r="2.1" fill="none" stroke="#f6b46a" stroke-width="0.85" />
<circle cx="466.00" cy="359.60" r="2.1" fill="none" stroke="#f6b46a" stroke-width="0.85" />
<circle cx="426.30" cy="364.60" r="2.1" fill="none" stroke="#f6b46a" stroke-width="0.85" />
<circle cx="444.80" cy="364.60" r="2.1" fill="none" stroke="#f6b46a" stroke-width="0.85" />
<circle cx="447.50" cy="368.40" r="2.1" fill="none" stroke="#f6b46a" stroke-width="0.85" />
<circle cx="442.80" cy="377.50" r="2.1" fill="none" stroke="#f6b46a" stroke-width="0.85" />
<circle cx="446.10" cy="381.10" r="2.1" fill="none" stroke="#f6b46a" stroke-width="0.85" />
<circle cx="453.80" cy="382.20" r="2.1" fill="none" stroke="#f6b46a" stroke-width="0.85" />
<circle cx="460.50" cy="381.10" r="2.1" fill="none" stroke="#f6b46a" stroke-width="0.85" />
<circle cx="456.60" cy="387.70" r="2.1" fill="none" stroke="#f6b46a" stroke-width="0.85" />
<circle cx="449.40" cy="391.30" r="2.1" fill="none" stroke="#f6b46a" stroke-width="0.85" />
<circle cx="455.00" cy="396.00" r="2.1" fill="none" stroke="#f6b46a" stroke-width="0.85" />
<circle cx="468.70" cy="397.60" r="2.1" fill="none" stroke="#f6b46a" stroke-width="0.85" />
<circle cx="462.70" cy="394.00" r="2.1" fill="none" stroke="#f6b46a" stroke-width="0.85" />
<circle cx="417.20" cy="391.30" r="2.1" fill="none" stroke="#f6b46a" stroke-width="0.85" />
<circle cx="490.20" cy="396.80" r="2.1" fill="none" stroke="#f6b46a" stroke-width="0.85" />
<circle cx="475.90" cy="405.90" r="2.1" fill="none" stroke="#f6b46a" stroke-width="0.85" />
<circle cx="476.40" cy="423.50" r="2.1" fill="none" stroke="#f6b46a" stroke-width="0.85" />
<circle cx="408.90" cy="367.00" r="2.3" fill="#f7931e" stroke="none" stroke-width="1" />
<circle cx="413.60" cy="350.80" r="2.3" fill="#f7931e" stroke="none" stroke-width="1" />
<circle cx="475.90" cy="345.30" r="2.3" fill="#f7931e" stroke="none" stroke-width="1" />
<circle cx="472.30" cy="350.00" r="2.3" fill="#f7931e" stroke="none" stroke-width="1" />
<circle cx="461.30" cy="358.20" r="2.3" fill="#f7931e" stroke="none" stroke-width="1" />
<circle cx="452.20" cy="367.30" r="2.3" fill="#f7931e" stroke="none" stroke-width="1" />
<circle cx="457.20" cy="366.50" r="2.3" fill="#f7931e" stroke="none" stroke-width="1" />
<circle cx="448.30" cy="375.60" r="2.3" fill="#f7931e" stroke="none" stroke-width="1" />
<circle cx="452.20" cy="373.90" r="2.3" fill="#f7931e" stroke="none" stroke-width="1" />
<circle cx="454.90" cy="374.80" r="2.3" fill="#f7931e" stroke="none" stroke-width="1" />
<circle cx="460.50" cy="373.90" r="2.3" fill="#f7931e" stroke="none" stroke-width="1" />
<circle cx="469.60" cy="368.40" r="2.3" fill="#f7931e" stroke="none" stroke-width="1" />
<circle cx="470.40" cy="378.30" r="2.3" fill="#f7931e" stroke="none" stroke-width="1" />
<circle cx="476.40" cy="375.60" r="2.3" fill="#f7931e" stroke="none" stroke-width="1" />
<circle cx="477.00" cy="378.30" r="2.3" fill="#f7931e" stroke="none" stroke-width="1" />
<circle cx="488.80" cy="373.40" r="2.3" fill="#f7931e" stroke="none" stroke-width="1" />
<circle cx="498.50" cy="378.30" r="2.3" fill="#f7931e" stroke="none" stroke-width="1" />
<circle cx="501.20" cy="379.40" r="2.3" fill="#f7931e" stroke="none" stroke-width="1" />
<circle cx="497.10" cy="383.00" r="2.3" fill="#f7931e" stroke="none" stroke-width="1" />
<circle cx="447.50" cy="380.30" r="2.3" fill="#f7931e" stroke="none" stroke-width="1" />
<circle cx="454.40" cy="384.40" r="2.3" fill="#f7931e" stroke="none" stroke-width="1" />
<circle cx="462.70" cy="382.20" r="2.3" fill="#f7931e" stroke="none" stroke-width="1" />
<circle cx="481.40" cy="383.80" r="2.3" fill="#f7931e" stroke="none" stroke-width="1" />
<circle cx="457.70" cy="389.40" r="2.3" fill="#f7931e" stroke="none" stroke-width="1" />
<circle cx="465.40" cy="390.50" r="2.3" fill="#f7931e" stroke="none" stroke-width="1" />
<circle cx="467.60" cy="392.10" r="2.3" fill="#f7931e" stroke="none" stroke-width="1" />
<circle cx="475.10" cy="388.50" r="2.3" fill="#f7931e" stroke="none" stroke-width="1" />
<circle cx="489.70" cy="391.30" r="2.3" fill="#f7931e" stroke="none" stroke-width="1" />
<circle cx="453.80" cy="398.70" r="2.3" fill="#f7931e" stroke="none" stroke-width="1" />
<circle cx="479.80" cy="399.60" r="2.3" fill="#f7931e" stroke="none" stroke-width="1" />
<circle cx="484.20" cy="397.60" r="2.3" fill="#f7931e" stroke="none" stroke-width="1" />
<circle cx="474.20" cy="407.00" r="2.3" fill="#f7931e" stroke="none" stroke-width="1" />
<circle cx="485.30" cy="414.70" r="2.3" fill="#f7931e" stroke="none" stroke-width="1" />
<circle cx="491.60" cy="411.40" r="2.3" fill="#f7931e" stroke="none" stroke-width="1" />
<circle cx="450.30" cy="372.00" r="2.3" fill="#f7931e" stroke="none" stroke-width="1" />
<circle cx="466.80" cy="380.30" r="2.3" fill="#f7931e" stroke="none" stroke-width="1" />
<circle cx="462.10" cy="358.20" r="2.3" fill="#f7931e" stroke="none" stroke-width="1" />
<circle cx="468.20" cy="354.10" r="2.3" fill="#0f4c81" stroke="none" stroke-width="1" />
<circle cx="469.60" cy="390.50" r="2.3" fill="#0f4c81" stroke="none" stroke-width="1" />
<circle cx="474.20" cy="411.40" r="2.3" fill="#0f4c81" stroke="none" stroke-width="1" />
<line x1="408.90" y1="357.40" x2="508.10" y2="397.60" stroke="#5f5f5f" stroke-width="1.0" stroke-dasharray="3.4 2.4"/>
<rect x="405.40" y="337.00" width="107.10" height="90.40" fill="none" stroke="#111" stroke-width="1.2" />
<line x1="402.40" y1="346.60" x2="405.40" y2="346.60" stroke="#333" stroke-width="0.9" />
<text x="401.50" y="348.80" font-size="6.5" text-anchor="end" fill="#444" stroke="#444" stroke-width="0.2" textLength="12.2" lengthAdjust="spacingAndGlyphs" >20.0</text>
<line x1="402.40" y1="375.85" x2="405.40" y2="375.85" stroke="#333" stroke-width="0.9" />
<text x="401.50" y="378.05" font-size="6.5" text-anchor="end" fill="#444" stroke="#444" stroke-width="0.2" textLength="12.2" lengthAdjust="spacingAndGlyphs" >19.5</text>
<line x1="402.40" y1="405.10" x2="405.40" y2="405.10" stroke="#333" stroke-width="0.9" />
<text x="401.50" y="407.30" font-size="6.5" text-anchor="end" fill="#444" stroke="#444" stroke-width="0.2" textLength="12.2" lengthAdjust="spacingAndGlyphs" >19.0</text>
<line x1="429.00" y1="427.40" x2="429.00" y2="430.40" stroke="#333" stroke-width="0.9" />
<text x="429.00" y="438.60" font-size="6.5" text-anchor="middle" fill="#444" stroke="#444" stroke-width="0.2" textLength="9.6" lengthAdjust="spacingAndGlyphs" >0.7</text>
<line x1="457.10" y1="427.40" x2="457.10" y2="430.40" stroke="#333" stroke-width="0.9" />
<text x="457.10" y="438.60" font-size="6.5" text-anchor="middle" fill="#444" stroke="#444" stroke-width="0.2" textLength="9.6" lengthAdjust="spacingAndGlyphs" >0.8</text>
<line x1="485.20" y1="427.40" x2="485.20" y2="430.40" stroke="#333" stroke-width="0.9" />
<text x="485.20" y="438.60" font-size="6.5" text-anchor="middle" fill="#444" stroke="#444" stroke-width="0.2" textLength="9.6" lengthAdjust="spacingAndGlyphs" >0.9</text>
<text x="458.95" y="449.40" font-size="9.4" text-anchor="middle" fill="#2e2e2e" stroke="#2e2e2e" stroke-width="0.2" textLength="79" lengthAdjust="spacingAndGlyphs" >Viability after treatment</text>
<text x="127.60" y="463.90" font-size="7.9" text-anchor="start" fill="#2e2e2e" stroke="#2e2e2e" stroke-width="0.2" textLength="35.7" lengthAdjust="spacingAndGlyphs" >Trisomy 12</text>
<circle cx="170.90" cy="461.30" r="3.5" fill="#f7931e" stroke="none" stroke-width="1" />
<text x="178.80" y="463.90" font-size="7.9" text-anchor="start" fill="#2e2e2e" stroke="#2e2e2e" stroke-width="0.2" textLength="9.4" lengthAdjust="spacingAndGlyphs" >No</text>
<circle cx="194.40" cy="461.30" r="3.5" fill="#0f4c81" stroke="none" stroke-width="1" />
<text x="203.00" y="463.90" font-size="7.9" text-anchor="start" fill="#2e2e2e" stroke="#2e2e2e" stroke-width="0.2" textLength="11.1" lengthAdjust="spacingAndGlyphs" >Yes</text>
<text x="234.20" y="463.90" font-size="7.9" text-anchor="start" fill="#2e2e2e" stroke="#2e2e2e" stroke-width="0.2" textLength="16.3" lengthAdjust="spacingAndGlyphs" >IGHV</text>
<circle cx="259.50" cy="461.30" r="3.5" fill="#111" stroke="none" stroke-width="1" />
<text x="268.10" y="463.90" font-size="7.9" text-anchor="start" fill="#2e2e2e" stroke="#2e2e2e" stroke-width="0.2" textLength="5.9" lengthAdjust="spacingAndGlyphs" >M</text>
<circle cx="281.60" cy="461.30" r="3.1" fill="none" stroke="#222" stroke-width="1.1" />
<text x="289.60" y="463.90" font-size="7.9" text-anchor="start" fill="#2e2e2e" stroke="#2e2e2e" stroke-width="0.2" textLength="5.2" lengthAdjust="spacingAndGlyphs" >U</text>
<text x="369.80" y="463.90" font-size="7.9" text-anchor="start" fill="#2e2e2e" stroke="#2e2e2e" stroke-width="0.2" textLength="16.9" lengthAdjust="spacingAndGlyphs" >IGHV</text>
<circle cx="393.90" cy="461.30" r="3.5" fill="#111" stroke="none" stroke-width="1" />
<text x="401.50" y="463.90" font-size="7.9" text-anchor="start" fill="#2e2e2e" stroke="#2e2e2e" stroke-width="0.2" textLength="6.2" lengthAdjust="spacingAndGlyphs" >M</text>
<circle cx="413.40" cy="461.30" r="3.1" fill="none" stroke="#222" stroke-width="1.1" />
<text x="422.70" y="463.90" font-size="7.9" text-anchor="start" fill="#2e2e2e" stroke="#2e2e2e" stroke-width="0.2" textLength="5.0" lengthAdjust="spacingAndGlyphs" >U</text>
<text x="443.80" y="463.90" font-size="7.9" text-anchor="start" fill="#2e2e2e" stroke="#2e2e2e" stroke-width="0.2" font-style="italic" textLength="14.9" lengthAdjust="spacingAndGlyphs" >TP53</text>
<circle cx="466.30" cy="461.30" r="3.5" fill="#0f4c81" stroke="none" stroke-width="1" />
<text x="474.30" y="463.90" font-size="7.9" text-anchor="start" fill="#2e2e2e" stroke="#2e2e2e" stroke-width="0.2" textLength="11.9" lengthAdjust="spacingAndGlyphs" >Mut</text>
<circle cx="493.80" cy="461.30" r="3.5" fill="#f7931e" stroke="none" stroke-width="1" />
<text x="501.00" y="463.90" font-size="7.9" text-anchor="start" fill="#2e2e2e" stroke="#2e2e2e" stroke-width="0.2" textLength="11.4" lengthAdjust="spacingAndGlyphs" >WT</text>
<rect x="0.00" y="0.00" width="520.00" height="1.05" fill="#161214" stroke="none" stroke-width="1" />
<rect x="0.00" y="0.00" width="1.10" height="472.00" fill="#161214" stroke="none" stroke-width="1" />
<rect x="518.60" y="0.00" width="1.40" height="472.00" fill="#161214" stroke="none" stroke-width="1" />
<rect x="0.00" y="470.70" width="520.00" height="1.30" fill="#161214" stroke="none" stroke-width="1" />
</svg>
</body></html>
